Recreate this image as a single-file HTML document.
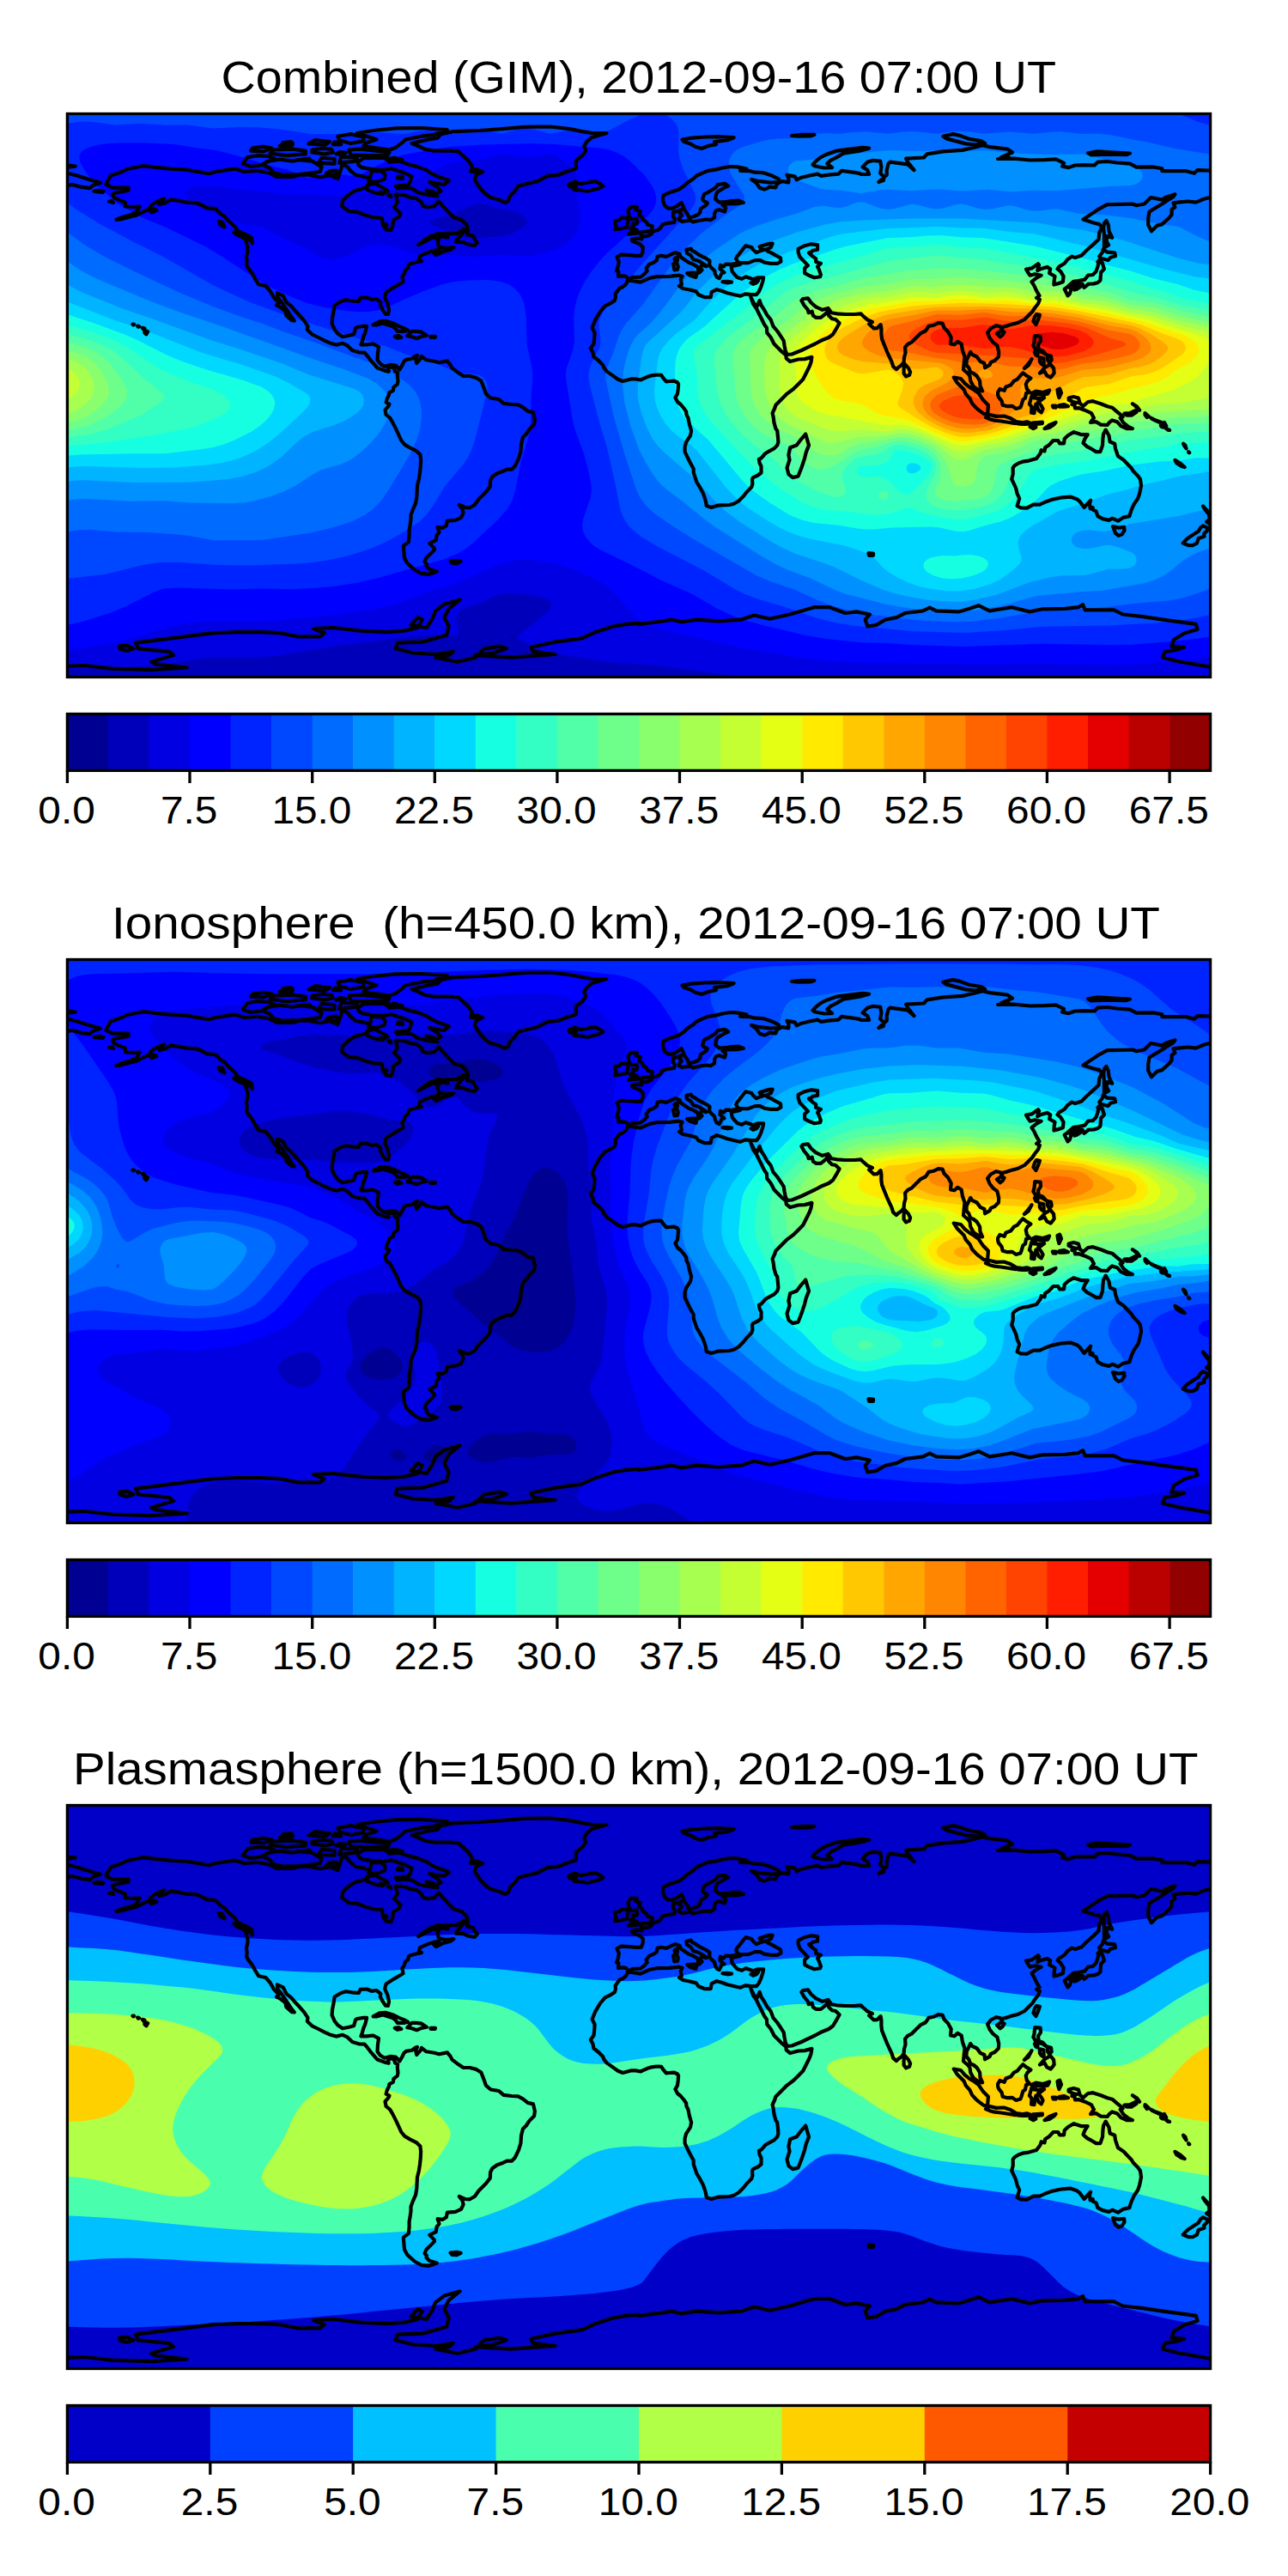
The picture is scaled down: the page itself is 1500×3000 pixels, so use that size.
<!DOCTYPE html><html><head><meta charset="utf-8"><title>GIM</title><style>html,body{margin:0;padding:0;background:#fff}svg{display:block}text{font-family:"Liberation Sans",sans-serif;fill:#000}</style></head><body>
<svg width="1500" height="3000" viewBox="0 0 1500 3000">
<defs><clipPath id="cm"><rect x="78.4" y="132.5" width="1331.2" height="656"/></clipPath>
<path id="coast" d="M123.4,214.6 129,204.5 142.1,200 147.8,197 166.5,193.2 183.4,195.1 198.4,196.6 217.1,197.7 228.4,199.6 243.4,202.2 250.9,200 265.9,197.7 273.4,196.6 284.6,200 299.6,198.8 314.6,201.8 322.1,206 340.9,206 348.4,203.7 359.6,203.7 372.8,206.3 384,204.1 393.4,208.2 395.3,202.6 399,191 404.6,194.4 408.4,199.2 414,203.7 423.4,205.6 430.9,207.5 432.8,198.8 444,199.2 448.5,203.3 447.8,208.6 438.4,212 429,211.2 430.9,214.2 427.1,217.6 419.6,220.6 413.3,222.1 404.6,228.1 399,233.7 398.3,240.1 406.5,246.1 415.9,246.8 425.3,250.6 434.6,253.2 444.8,254 445.9,261.8 449.6,267.4 455.3,268.2 457.1,263.7 458.3,256.2 464.6,252.5 466.5,248.7 459,241.2 462.8,235.6 460.9,226.6 470.3,227 477.8,230 485.3,231.1 490.9,235.6 492.8,240.1 498.4,241.2 505.9,240.1 510.8,234.5 517.1,241.2 522.8,247.6 528.4,253.2 537.8,256.2 543.4,261.8 544.5,265.6 539.6,267.4 532.1,271.9 520.9,272.3 509.6,272.3 502.1,274.9 494.6,279.4 487.1,285.1 494.6,281.3 504,276.4 511.5,277.6 509.6,281.3 510.8,286.9 517.1,288.8 522.8,288.8 528.4,288.1 524.6,290.7 515.3,293.3 507.8,297.1 505.1,294.4 511.5,290.7 502.1,292.6 494.6,295.6 489,298.2 487.9,301.9 490.9,304.2 485.3,305.3 477.8,307.2 475.9,308.7 475.1,312.4 472.1,314.7 470.3,319.9 468.4,322.2 469.5,328.2 464.6,331.2 460.9,333.4 455.3,336.8 449.6,340.5 448.1,346.2 451.5,353.7 453,361.2 451.9,366 448.9,365.7 445.9,361.2 442.9,355.5 443.3,351.8 438.4,348 432.8,348.8 427.1,346.5 419.6,346.9 417.8,351 412.1,350.7 402.8,349.2 397.1,351 389.6,355.5 388.5,363 387,370.5 386.6,376.9 389.6,383.7 393.4,388.5 399,392.3 406.5,390.8 412.1,389.3 414,382.5 415.9,381 423.4,379.9 427.1,379.9 425.3,387.4 423.4,391.9 421.5,398.6 420.4,401.3 427.1,401.3 434.6,400.5 441,403.9 439.9,411.8 439.5,419.3 442.9,423.8 447.8,426.8 454.5,424.9 460.9,425.6 463.5,428.3 465.4,430.5 468.4,425.3 470.3,421.1 472.9,418.9 479.6,417.8 483.4,414.8 486,414 484.1,418.5 485.3,423 490.1,417.4 490.9,414.8 496.5,419.3 505.9,420.8 511.5,422.3 520.9,420.4 524.6,424.9 526.5,428.6 534,434.3 539.6,438 547.1,438 554.6,439.9 560.3,443.6 564,453 565.9,458.6 571.5,463.5 580.9,465 586.5,469.9 595.9,471 603.4,471.4 609,474.4 614.6,478.9 621,480.4 622.9,488.6 622.1,494.2 616.5,499.9 612.8,505.5 609,509.2 607.1,516.7 606.4,526.1 604.1,533.6 601.5,539.2 599.6,543 595.9,546.7 590.3,546.7 584.6,549.3 579,551.2 573.4,555.3 571.1,559.8 570.8,566.6 565.9,573 562.1,576.7 557.6,581.2 552.8,588 547.1,591.3 541.5,591 534.8,588 538.5,592.8 539.6,597.3 537,602.9 530.3,605.9 520.9,606.7 519.8,612.3 515.3,614.9 509.6,614.2 511.5,619.8 508.5,623.6 507.8,629.2 500.3,632.9 505.9,638.6 505.9,640.4 500.3,646.1 496.5,649.8 494.6,654.3 496.9,656.9 496.5,659.2 500.3,662.9 508.9,665.5 504,667.4 498.4,668.9 490.9,667.8 483.4,664 477.8,659.2 474,655.4 471,649.8 470.3,642.3 469.9,635.6 475.9,631.1 476.6,623.6 476.6,617.2 477.8,610.4 478.5,604.8 478.5,599.9 480.8,593.6 484.1,586.1 485.3,578.6 485.6,573 486,565.5 487.9,558 489,550.5 489.8,543 490.1,535.5 489.4,529.5 485.3,525.4 477.8,521.6 471.4,517.9 467.3,513 463.9,505.5 460.9,499.1 457.1,491.6 454.1,486.7 449.6,483 448.5,477.4 452.3,473.2 453.4,470.6 449.6,468.7 450.8,464.2 453,459.8 453.4,457.1 457.9,454.9 458.3,451.1 462.8,447.4 463.5,443.6 462.8,438 463.1,434.3 461.3,433.1 460.1,432.4 459,428.6 454.5,427.1 451.9,429.8 452.6,432.8 447.8,431.6 442.9,429.8 439.5,428.6 435,423.4 431.6,419.6 427.1,413.6 424.5,410.6 417.8,410.3 410.3,408 404.6,402.4 399,399.8 391.5,401.6 384,399.4 378.4,396.8 370.9,393 363.4,389.3 357.8,384 358.5,379.9 354,373.2 348.4,366.8 343.1,361.2 339,356.3 333.4,351.8 329.6,344.3 322.9,341.3 323.3,346.2 327.8,351.8 331.5,357.4 335.3,363 339,368.7 342.8,373.5 339.8,373.2 333.4,367.5 332.3,362.3 325.9,357.4 322.1,355.5 324.8,352.5 319.1,346.9 314.6,339 309.4,333 301.1,331.2 296.3,323.3 294,318.8 289.1,312.4 287.3,309.1 287.6,303.1 286.9,299.3 288.4,292.6 288.4,287.3 285.8,279.1 292.1,279.8 294,283.2 292.9,276.8 286.5,273.1 277.1,269.3 273.4,263.7 265.9,257 262.1,252.5 256.5,248.7 250.9,243.1 241.5,242.3 235.9,239.3 228.4,236.3 217.1,235.6 207.8,233.7 198.4,232.6 192.8,236.3 185.3,238.2 190.9,231.1 181.5,235.6 175.9,239.3 174,243.1 166.5,246.8 159,250.6 151.5,252.5 142.1,255.1 135.4,255.8 144,252.5 151.5,250.6 159,246.8 162.8,240.5 157.1,240.8 145.9,240.5 145.9,235.6 138.4,232.6 132.8,230 130.9,226.2 134.6,224.3 142.1,223.2 149.6,221.7 149.6,218.7 142.1,218.7 130.9,218.7ZM588.4,236 580.9,232.6 571.5,230 565.9,226.2 560.3,220.6 556.5,215 552.8,209.3 554.6,203.7 562.1,200 550.9,197 549,192.5 545.3,186.9 537.8,180.1 534,176.4 524.6,175.6 505.9,175.6 494.6,173.7 487.1,170 479.6,167 498.4,162.5 509.6,160.6 513.4,156.1 528.4,153.1 558.4,152 584.6,150.1 610.9,147.9 640.9,147.5 663.4,150.1 678.4,153.1 689.6,155 706.5,155 689.6,159.9 684,164.4 680.3,170 682.1,175.6 678.4,181.2 670.9,186.9 670.9,192.5 670.9,196.2 659.6,200 650.3,203.7 637.1,205.2 625.9,211.2 614.6,213.8 603.4,216.8 599.6,222.5 594,228.1 592.1,233.7ZM509.6,228.5 498.4,227 487.1,224.3 479.6,219.5 472.1,218.7 462.8,219.5 460.9,216.8 475.9,215 477.8,211.2 479.6,205.6 472.1,201.8 460.9,198.1 455.3,196.2 445.9,198.1 434.6,197.4 421.5,195.1 417.8,192.5 416.6,188.7 423.4,184.2 434.6,183.9 449.6,183.9 453.4,188.7 464.6,187.6 475.9,191.4 487.1,194.4 496.5,198.1 502.1,201.8 511.5,206.3 520.9,209.3 522.8,210.5 517.1,215 509.6,213.8 500.3,212 509.6,218 513.4,222.5 507.8,225.1 502.1,222.5 496.5,221.7 505.9,226.2ZM520.9,151.2 490.9,149 460.9,149.4 434.6,152 415.9,155 427.1,158.7 438.4,162.5 427.1,166.2 423.4,170 434.6,171.9 453.4,174.5 460.9,171.9 468.4,166.2 472.1,162.5 490.9,158.7 505.9,156.9ZM393.4,158.7 408.4,156.1 423.4,159.5 423.4,164.4 408.4,167 395.3,163.2ZM453.4,177.5 451.5,180.9 430.9,181.2 408.4,180.5 406.5,174.5 419.6,173.7 438.4,175.6ZM318.4,201.1 329.6,203.7 348.4,203 359.6,201.8 372.8,200 374.6,194.4 363.4,187.6 348.4,186.1 340.9,187.6 325.9,185.7 310.9,188 307.1,192.5 314.6,196.2ZM282.8,190.6 292.1,194 303.4,192.5 310.9,188.7 320.3,185 312.8,182 299.6,181.2 288.4,183.1ZM314.6,178.6 333.4,181.2 355.9,179.4 355.9,175.6 340.9,173.7 318.4,174.5ZM370.9,189.9 389.6,190.6 389.6,185 374.6,183.9ZM395.3,189.9 414,187.6 415.9,183.5 397.1,182.7ZM427.1,215.7 436.5,213.8 447.8,219.5 451.5,222.5 440.3,225.5 432.8,223.2 427.1,220.6ZM531,281.7 539.6,282.1 545.3,284.7 552.8,285.8 555.8,282.4 552.8,278.7 550.9,274.9 544.1,273.1 544.9,267.1 539.6,270.1 535.9,274.9 532.1,278.7ZM434.6,378.4 442.1,374.3 449.6,373.9 457.1,376.2 464.6,379.9 472.1,382.9 475.1,384.8 470.3,385.9 462.8,385.9 460.9,382.9 457.1,379.9 445.9,376.5 438.4,378.4ZM474.4,391.2 479.6,385.9 485.3,385.9 490.9,386.7 496.9,390.8 490.9,391.9 485.3,394.2 479.6,392.3ZM459.8,391.9 464.6,391.2 467.3,393 462.8,393.8ZM501.4,391.9 507,391.9 506.6,393 501.8,393ZM168.4,384.8 172.1,386.3 170.3,389.3 168.4,387.4ZM165.8,381.8 168.4,382.5 166.9,383.3ZM160.1,379.5 162,380.3 160.9,380.7ZM154.5,377.7 156,377.7 155.3,378.4ZM272.3,270.4 282.8,272.3 290.3,278.7 284.6,277.6 275.3,273.1ZM254.6,258.1 259.1,258.8 261.4,264.4 256.5,261.8ZM174,245 179.6,243.1 182.3,245 176.6,247.2ZM662.3,214.6 669,211.6 676.5,214.2 685.9,212.3 693.4,211.2 698.6,213.8 702.4,216.8 697.1,219.5 684,222.8 674.6,221.3 668.6,221 670.9,219.1 663.4,217.2 670.9,215.7ZM731.3,326.3 745.9,328.6 757.1,323.7 764.6,322.2 779.6,321.8 790.9,320.7 794.6,321.8 792.7,325.6 793.9,331.2 790.9,333 795.4,336 802.1,337.2 810.7,339.4 813.4,343.2 820.9,346.2 827.6,346.2 828.7,340.2 834.7,337.2 840.4,338.7 847.1,341.3 856.5,343.5 862.1,344.7 867.7,342.4 873.4,342.8 875.2,348.4 877.1,353.7 880.9,359.3 884.6,366.8 886.5,370.5 890.2,378 892.9,381.8 893.2,387.4 897.7,393 901.5,400.5 905.2,404.3 910.9,409.9 915.4,413.6 915.7,417.4 920.2,421.1 929.6,418.5 937.1,418.1 945.4,415.9 944.6,421.5 942.7,426.8 939,434.3 935.2,441.8 929.6,447.4 924,453 916.5,458.6 910.9,464.2 907.1,468 903.4,471.7 902.2,475.5 899.6,481.1 900.7,486 901.5,492.4 903.4,499.1 905.2,501.7 906,509.2 906.4,514.9 905.2,518.6 901.5,522.4 895.9,525.4 891.4,528 886.5,533.6 883.9,534.7 884.6,539.2 886.5,543 886.5,550.5 882.7,553.5 877.1,556.1 876,558 876.4,563.6 875.2,567.3 871.5,571.1 869.6,573 865.9,577.8 860.2,583.5 854.6,586.8 849.7,588 841.5,588.3 835.9,588.7 828.4,591 822.7,589.1 822,584.2 820.9,580.5 819,574.8 815.2,567.7 811.5,561.7 809.6,556.1 807.7,550.5 807.7,546 804,539.2 800.2,531.7 797.6,526.1 797.6,520.5 799.1,514.9 804,507.4 805.1,501.7 802.9,494.2 801.4,486.7 799.5,483 799.1,479.2 796.5,475.5 792.7,471 789,468 786.4,463.1 789,458.6 789.7,453 790.1,447.4 789,445.5 785.2,443.6 779.6,444 775.9,444.4 772.1,439.9 770.2,436.9 766.1,436.5 759,437.3 753.4,439.1 745.9,442.5 740.3,441.4 734.6,441.4 725.3,444 719.6,441.8 712.9,436.9 706.5,432.4 703.5,428.6 702,424.9 697.1,420 691.5,415.5 690.4,410.3 687.8,405.4 691.5,400.5 692.3,393 692.6,387.4 689.6,381.8 693.4,372.4 699,363 704.6,356.3 710.3,353.7 715.9,349.9 717,346.2 716.6,342.4 721.5,335.7 725.3,334.2 729,331.2ZM938.2,505.5 942,518.6 939,526.1 937.1,533.6 933.4,544.8 929.6,554.6 923.2,556.1 918.4,552.3 916.5,544.8 919.5,535.5 918.4,529.8 920.2,521.2 927.7,518.6 933.4,511.1ZM732.4,325.6 729,321.8 725.3,321.4 720,321.8 720.4,316.2 718.1,315.4 720,309.8 720.8,304.9 718.5,299.3 723.4,296.7 732.8,297.1 740.3,297.8 746.6,297.8 748.5,293.7 748.9,288.1 745.1,284.3 736.5,280.9 735.8,278.7 742.1,277.6 747.4,278.3 746.6,274.2 749.6,275.3 754.1,274.9 759,272.3 759.7,269.7 766.5,267.8 769.1,265.6 771.4,261.8 775.9,260.3 779.6,259.6 785.2,258.8 786,255.1 784.1,252.5 784.1,246.8 789,246.1 793.1,244.2 792,248.7 793.9,250.6 790.9,254.3 790.9,256.2 794.6,258.1 798.4,257.3 804,256.6 807,258.5 813.4,257 822.7,255.5 827.6,256.2 832.1,253.2 832.1,248.7 834,245 837.7,244.2 844.1,246.5 845.2,242 841.5,238.6 847.1,237.5 858.4,237.1 865.9,236 860.2,233.7 850.9,234.1 845.2,235.2 837.7,235.6 833.2,231.8 834,226.2 835.9,223.2 843.4,218.7 848.2,216.5 844.1,213.8 835.9,215 833.2,218.7 826.5,222.8 820.1,226.2 818.2,231.8 819,233.7 823.9,236.3 822,239.3 816,243.1 815.2,247.6 812.6,250.2 807,252.5 801.7,252.8 801,249.8 797.6,245 795.4,239.7 793.5,236 789,239.7 783.4,242.7 778.1,242.7 774,239.3 772.1,233.7 772.1,230 772.9,227.3 779.6,224.3 785.2,222.5 790.9,220.6 796.5,216.8 800.2,213.1 807.4,208.2 811.5,204.5 819,201.1 824.6,198.8 834,197.4 841.5,195.5 850.1,194 858.4,194.4 869.6,196.6 862.1,198.8 873.4,199.2 879,200.7 888.4,201.1 899.6,204.8 907.1,208.6 907.1,212 897.7,212.7 884.6,211.2 875.2,209 880.9,213.1 884.6,218.7 890.2,220.6 894,219.1 895.9,217.6 903.4,218.3 905.2,213.8 910.9,211.2 918.4,212.3 918.4,207.5 916.5,203.7 925.9,205.6 927.7,209.3 933.4,206.7 942.7,204.5 952.1,202.6 955.9,204.8 967.1,203.3 976.5,202.6 980.2,198.8 993.4,200.7 1000.9,201.8 1002.7,203 1012.1,203 1010.2,198.1 1004.6,194.4 1010.2,188.7 1015.9,186.9 1025.2,187.6 1026.4,194.4 1025.2,201.8 1029,205.6 1029,210.1 1023.4,212 1032.7,203.7 1032.7,198.1 1034.6,190.6 1036.5,188.7 1045.9,189.9 1057.1,191.4 1064.6,198.1 1057.1,188.7 1055.2,184.6 1075.9,183.5 1079.6,179.4 1098.4,176.4 1120.9,174.9 1144.5,169.2 1152.7,171.1 1173.4,173.7 1179,177.5 1165.9,183.1 1175.2,183.5 1162.1,185 1180.9,184.6 1199.6,186.5 1216.5,186.1 1229.6,185.4 1239,189.9 1237.1,193.6 1244.6,195.1 1252.1,192.5 1261.5,192.1 1274.6,192.5 1278.4,188.7 1289.6,188 1300.9,189.5 1315.9,190.6 1323.4,194.7 1342.1,194.4 1353.4,196.2 1353.4,199.2 1368.4,199.2 1381.5,199.2 1390.9,201.8 1394.6,198.1 1413.3,198.8 1428.3,201.8M78.4,201.8 89.6,204.5 104.6,209.3 117,212.7 108.4,215.7 104.6,219.1 93.4,217.6 84,215 78.4,216.1M1428.3,216.1 1422.7,218 1419,218.7 1424.6,224.3 1425.7,227 1413.3,228.8 1402.1,231.8 1392.7,235.6 1383.4,234.5 1372.1,235.6 1366.5,236.3 1368.4,241.2 1364.6,243.8 1364.6,249.8 1360.9,254.3 1353.4,261.1 1347.7,262.6 1341,269.3 1337.2,261.8 1337.2,254.3 1338.4,246.8 1344,243.1 1353.4,237.5 1359,233.7 1366.5,229.2 1368.4,226.2 1357.1,230 1353.4,232.6 1340.2,230 1332.7,237.5 1323.4,239.3 1318.9,237.5 1297.1,238.2 1289.6,238.2 1278.4,244.2 1269,250.6 1261.5,255.5 1269,258.1 1272.7,259.2 1280.2,261.1 1283.2,264.8 1280.2,271.2 1279.5,278.7 1272.7,285.1 1265.2,291.8 1259.6,297.4 1252.1,300.1 1248.4,298.6 1243.5,301.9 1239.7,306.8 1233.4,310.6 1231.5,313.2 1235.2,316.2 1238.6,321.8 1237.9,328.2 1231.5,330.4 1227.4,331.5 1227.7,326.7 1228.5,321.8 1222.1,318.1 1223.2,313.2 1219.5,310.9 1210.9,313.6 1208.2,315.1 1210.1,308.7 1209,307.2 1201.5,312.4 1195.1,313.6 1197.7,318.1 1199.6,320.7 1205.2,319.2 1212.7,320.7 1207.1,323.7 1201.5,328.2 1204.5,333 1207.1,338.7 1210.5,344.3 1207.1,346.9 1210.9,348.8 1209,353.7 1205.2,358.5 1202.2,363 1197.7,367.5 1193.2,372 1186.5,375.4 1181.6,376.9 1177.1,378 1171.5,379.9 1167.4,380.7 1167,384.4 1165.1,380.3 1160.2,379.2 1153.9,382.5 1150.1,387.4 1152.7,393.8 1156.5,398.6 1161.4,402.4 1163.2,409.9 1162.9,415.5 1158.4,420 1153.9,421.9 1152.7,424.9 1147.1,428.3 1146.4,423 1141.5,420.8 1137.7,415.5 1132.1,412.9 1130.2,409.9 1128.4,413.6 1125.7,419.3 1125.4,424.9 1128.4,428.6 1130.2,433.5 1134,435 1137.7,438 1141.1,443.6 1141.5,449.3 1144.1,455.3 1141.1,454.9 1135.9,451.9 1133.2,449.3 1130.2,443.6 1129.5,438 1127.2,435 1122,430.5 1122.7,423 1123.5,415.5 1120.9,408 1119.7,400.5 1115.2,397.9 1111.5,401.3 1107,400.5 1107.7,393 1104,386.3 1099.5,381.8 1097.6,376.5 1092.7,376.2 1087.1,378.8 1081.5,379.9 1079.6,382.9 1077.7,385.5 1072.1,388.2 1066.5,393.8 1062,398.3 1057.1,400.9 1054.1,404.3 1054.5,411 1053,416.3 1052.6,421.9 1049.6,425.6 1046.6,427.5 1044,430.1 1040.2,426.8 1038.4,421.1 1035.7,415.5 1032.7,408.8 1030.1,402.4 1027.1,394.9 1026.4,389.3 1026.4,382.5 1025.6,378 1021.5,382.2 1017.7,382.5 1012.1,377.3 1015.9,375 1010.2,372.4 1004.6,367.5 1002.7,365.3 995.2,366 984,366 974.6,365.3 968.2,364.2 964.5,358.9 957.7,360.8 950.2,357.4 944.6,352.5 940.9,347.3 935.2,348 933.4,349.9 936.4,355.5 940.9,360.8 941.6,364.2 945.7,362.7 946.9,367.5 950.2,369.8 955.9,369.8 961.5,365.3 964.1,362.3 965.2,367.5 969,371.3 973.1,372 977.6,376.2 973.9,382.9 970.1,389.3 965.2,393 955.9,396.8 949.1,400.5 940.9,404.3 933.4,408 924,411.8 922.1,412.5 916.5,412.9 914.6,408 913.5,402.4 912.7,396.8 909,391.2 905.2,385.5 900.4,379.9 897.7,372.4 893.2,366.8 890.2,361.2 886.5,355.5 884.6,349.9 882,356.3 878.2,353.7 875.6,348.4M874.5,343.2 880.9,343.2 883.9,339.4 886.5,333.4 888.4,327.4 889.1,323.3 882.7,323.3 877.1,325.2 868.5,322.2 864,324.8 858.4,322.9 855.7,319.9 852.7,316.2 852,312.4 851.6,310.2 856.5,309.1 862.1,307.9 862.5,306.1 871.5,306.1 879,303.1 885.4,303.1 890.2,305.7 897.7,306.8 905.2,306.8 909.4,304.6 909,300.4 903.4,297.4 897.7,294.1 894,292.6 892.1,290.7 897.7,288.1 899.6,283.6 895.9,283.9 890.2,285.4 884.6,287.3 886.5,290.7 890.2,290.7 884.6,292.6 880.9,294.1 877.1,290.7 875.2,288.1 868.5,286.2 864.7,290.7 861,295.6 858.4,298.6 857.2,301.2 859.1,304.9 862.1,306.4 856.5,306.8 852,307.9 845.2,307.6 842.6,310.6 838.9,308.7 838.5,313.2 843.4,317.3 840.4,318.4 837.7,324.1 834.7,322.6 832.9,318.8 832.1,315.1 828.4,311.7 826.1,308.7 826.5,303.8 822.7,301.2 815.2,297.4 809.6,293.7 805.9,291.8 804.7,289.6 799.5,290.7 799.9,294.8 804.4,297.4 807.7,302.3 813.4,303.8 820.9,308.3 822.7,310.2 817.1,308.7 815.6,312.1 817.5,314.3 815.2,316.9 812.2,318.4 813.4,315.1 812.2,310.6 807,307.6 802.1,305.7 799.1,303.8 792.7,299.3 791.6,295.9 786.7,294.1 781.5,296.3 775.9,298.9 770.2,297.8 765.4,298.9 765,303.1 761.2,305.7 756.4,307.6 752.6,312.4 753.7,315.4 750.7,318.8 745.9,322.6 736.9,322.9 732.4,325.6M929.6,289.9 937.1,286.2 944.6,284.3 952.1,285.1 952.1,290.7 946.5,291.8 944.6,293.7 942,294.4 946.5,298.6 950.2,301.2 950.2,304.9 955.9,306.8 952.1,310.6 954,314.3 955.9,319.9 955.1,322.2 948.4,323.3 942,320.7 937.1,318.1 937.1,312.4 940.9,309.1 935.2,303.1 931.5,299.3 929.6,293.7ZM732,272.7 740.3,271.9 747.7,270.4 758.6,268.9 759.7,263.3 754.1,261.8 753.4,259.2 748.9,255.8 747.4,252.5 744,250.2 745.9,246.1 740.3,244.2 741.8,240.8 734.6,240.8 731.6,245 732,248.7 732.8,252.5 735.4,255.1 741.4,254.7 742.1,258.8 741.4,260.7 736.5,260.7 737.6,263.7 733.9,266.3 740.3,267.4 742.1,268.2 736.5,269.3ZM715.9,267.1 721.5,266.7 729.8,264.8 730.9,260.7 731.6,256.2 730.1,253.6 723.4,253.6 721.5,256.2 715.9,257.3 716.6,260.7 717.8,263.7ZM1244.2,333 1250.2,327.8 1255.9,327.1 1263.4,325.6 1267.1,320.7 1272.7,319.9 1276.5,316.2 1278.4,310.6 1279.5,306.1 1283.6,305.7 1285.1,310.6 1285.9,313.2 1282.1,317.3 1281.7,322.6 1281.4,326.7 1278,329.3 1273.9,330.4 1267.1,330.8 1266.4,331.9 1262.6,334.9 1260.7,330.8 1252.1,331.9 1248.4,333.4ZM1244.2,333.4 1247.6,336.8 1245.7,342.4 1243.5,344.3 1241.6,340.5 1239.7,336.8ZM1250.2,334.9 1256.6,331.9 1258.5,333.8 1254,336.8 1251.4,337.5ZM1278.4,304.9 1282.1,301.2 1280.2,298.6 1284,293.7 1284.7,290.3 1289.6,293.7 1298.2,294.4 1299,298.2 1293.4,299.7 1290.4,303.1 1284,301.2 1280.2,303.1ZM1285.9,288.4 1291.1,285.4 1288.5,280.6 1289.6,274.9 1295.2,276.8 1291.5,269.3 1290.7,261.8 1288.5,257 1285.9,260 1285.1,265.6 1285.9,273.1 1285.9,280.6ZM1207.1,366 1210.9,366.8 1209,372.4 1206.4,378 1203.4,374.3 1205.2,368.7ZM1161,388.5 1164.7,392.3 1167.7,390 1169.6,386.7 1165.9,385.2ZM1053.4,423.8 1057.9,428.6 1060.1,433.1 1059,436.9 1055.2,438.4 1052.6,435 1052.6,429.8ZM1205.2,391.2 1211.6,391.5 1212,396.8 1209,401.3 1209.7,406.9 1214.6,408.8 1218.7,413.3 1214.6,410.6 1210.9,409.1 1206,408.8 1205.6,406.1 1203.4,402.4 1204.5,398.6ZM1210.9,434.6 1216.5,428.3 1223.2,424.1 1227,428.6 1227.7,434.3 1225.9,436.9 1223.6,439.5 1219.1,437.3 1216.5,432.4ZM1219.5,413.6 1224,414.8 1224.7,419.3 1222.1,422.3 1220.2,419.3ZM1210.9,416.3 1215.4,417.4 1215.7,425.6 1212.7,423.8 1210.9,421.1ZM1192.9,429 1197.7,425.6 1201.5,418.1 1199.6,421.1 1195.9,425.6ZM1204.9,410.3 1208.6,410.6 1208.2,414.4 1206.4,413.6ZM1164.4,453 1169.6,454.9 1171.5,450.4 1177.1,448.5 1180.9,443.6 1184.6,441.8 1188.4,437.3 1191.4,434.3 1194.7,436.9 1200.4,440.6 1196.6,443.6 1194.7,447.4 1195.9,453 1199.2,456.8 1195.1,457.9 1194,463.5 1191.4,465.4 1189.5,471.7 1188.4,474.4 1183.1,475.9 1179,472.9 1173.4,473.2 1167.7,471.7 1166.6,466.9 1162.9,462.4 1162.1,459.4 1162.1,456.8ZM1110.7,439.5 1119,441 1123.5,446.3 1129.5,451.1 1134,453.8 1139.6,457.9 1142.6,462.4 1145.2,466.1 1150.9,471.7 1150.1,482.6 1145.6,481.9 1139.6,477.4 1136.6,474.7 1132.1,469.9 1129.5,464.2 1124.6,458.6 1122.7,453.8 1119,450 1114.5,445.5ZM1147.9,486 1152.7,483 1160.2,484.9 1169.2,484.5 1176,486.7 1182.7,490.5 1182.7,493.1 1175.2,492 1165.9,490.5 1158.4,489.7 1152.7,488.2ZM1202.6,457.5 1206.4,455.6 1214.6,457.1 1222.1,454.5 1220.2,458.6 1214.6,459.4 1207.1,458.6 1204.1,463.5 1209,463.9 1216.1,463.1 1210.9,467.2 1209,468 1212.7,472.5 1214.6,476.2 1212.7,480.4 1209.7,478.1 1207.1,471.7 1206.4,470.6 1204.9,477.4 1204.5,481.1 1201.1,480.7 1201.5,473.6 1198.9,470.6 1200.4,465ZM1244.6,463.5 1250.2,462 1255.9,463.5 1257.7,469.9 1261.5,472.9 1267.1,468 1272.7,467.2 1282.1,470.2 1289.6,473.2 1295.2,474.7 1300.1,478.9 1304.6,482.6 1307.6,485.6 1304.6,486.7 1308.4,492.4 1314,496.9 1318.9,499.1 1312.1,499.1 1305.4,496.1 1300.9,491.2 1295.2,489.4 1291.5,492.4 1289.6,495 1282.1,494.6 1276.5,491.2 1270.1,492 1273.9,486.7 1270.9,481.1 1263.4,477.7 1255.9,475.1 1252.1,475.5 1251.4,471.7 1248.4,471 1254,469.1 1249.5,468 1244.6,465.7ZM1216.5,499.1 1222.1,495 1229.6,492 1227.7,494.2 1222.1,498ZM1203,492.4 1207.1,492 1213.9,491.6 1213.9,493.1 1207.1,493.9 1203,493.5ZM1191.4,492 1195.9,491.2 1199.6,492.4 1195.9,493.9 1191.4,493.9ZM1183.1,491.2 1186.9,491.6 1190.6,492 1190.2,493.9 1185.4,493.5ZM1199.6,496.1 1206.4,497.6 1203.4,499.1 1199.6,497.2ZM1231.5,453.8 1234.1,452.6 1236,457.5 1233.4,463.1 1232.2,458.6ZM1233.4,472.1 1239,471 1243.9,473.2 1239,473.6 1233.4,473.6ZM1225.9,472.5 1229.6,472.5 1229.6,474.7 1226.6,474.4ZM1309.5,481.5 1315.9,481.1 1321.5,478.5 1324.5,476.6 1323.4,480 1317.7,483.7 1312.1,483.7ZM1318.9,470.2 1324.1,473.6 1327.1,477.7 1325.6,476.2 1321.5,472.1ZM1333.5,481.1 1337.6,484.9 1335.7,486 1333.5,483ZM1340.2,486.7 1344,488.6 1352.6,492 1349.6,491.6 1342.1,488.2ZM1351.9,495.4 1356.4,497.2 1354.5,497.6 1352.2,496.5ZM1356,492 1358.2,496.1 1357.1,495.7 1355.6,492.7ZM1358.2,499.1 1362,501 1360.1,500.6ZM1378.1,516.7 1380.4,518.6 1381.5,522.4 1379.6,519.7ZM1384.1,526.1 1385.2,527.2 1384.5,527.2ZM1368.4,535.8 1374,539.2 1379.6,544.1 1375.9,543 1370.2,539.2ZM1287.7,500.6 1291.5,507.4 1292.6,514.5 1298.2,516.7 1299,522.4 1300.9,528 1302,531.3 1308.4,535.5 1312.9,540.3 1317.7,545.2 1319.6,548.6 1325.2,554.2 1327.9,558 1329,565.5 1327.1,574.8 1325.2,580.5 1320.7,587.2 1317.7,593.6 1315.9,599.2 1315.5,601.1 1308.4,602.6 1302,606.7 1297.1,604.4 1295.2,603.7 1291.5,605.9 1284,604.1 1278.4,601.1 1276.5,595.4 1272.7,593.6 1272.7,591 1269.7,592.4 1269,586.1 1270.1,582.7 1262.6,591 1257.7,584.2 1254,581.2 1246.5,578.6 1237.1,579.3 1225.9,581.6 1218.4,584.2 1210.9,587.6 1203.4,587.6 1195.9,591.7 1188.4,591.3 1184.6,589.1 1187.2,580.5 1184.6,574.8 1183.1,568.5 1180.9,563.6 1178.2,558 1179.7,552.3 1179.7,544.8 1181.6,542.2 1186.5,539.2 1191,537.7 1198.1,536.6 1207.1,534 1211.6,528 1212.7,524.2 1216.5,525.4 1217.2,521.2 1222.1,517.9 1226.6,513 1232.2,513 1234.1,516.4 1239,516.4 1239.7,511.1 1243.9,507 1250.6,503.2 1259.6,506.2 1266.7,506.2 1263.4,511.1 1261.5,516 1266,520.1 1270.9,522.7 1276.5,526.1 1281.4,526.1 1284,518.6 1284.4,511.1 1285.1,505.5ZM1296,613.1 1302.7,614.6 1309.1,613.8 1309.5,617.9 1306.5,622.4 1302.7,623.9 1299,620.9ZM1401,589.5 1407.7,596.6 1411.5,598.1 1413.3,601.4 1419,602.2 1422.7,601.8 1420.1,607.4 1417.1,608.6 1416.3,612.3 1410.7,616.4 1408.9,615.3 1410.3,611.2 1405.1,607.8 1408.5,604.8 1408.1,599.2 1402.9,592.8ZM1401,612.3 1406.6,614.9 1405.9,617.9 1402.1,621.7 1402.5,624.7 1395.7,626.9 1393.9,632.6 1389,635.2 1384.5,635.2 1377.7,632.6 1381.5,628.4 1385.2,625.4 1390.9,621.7 1395.7,618.7 1398.4,614.2ZM794.6,162.5 805.9,160.6 820.9,159.5 835.9,159.1 854.6,160.2 847.1,163.2 832.1,165.1 834,168.1 824.6,170 817.1,173 809.6,170.7 804,167.4 796.5,165.1ZM946.5,191.7 950.2,187.6 955.9,183.1 963.4,179.4 974.6,175.6 989.6,173.7 1004.6,171.9 1012.1,172.6 1000.9,175.6 982.1,178.6 974.6,183.1 967.1,186.9 963.4,190.6 969,195.1 959.6,195.5 948.4,193.2ZM922.1,158 933.4,156.9 948.4,156.9 944.6,158.4 929.6,158.7ZM1109.6,156.1 1117.1,157.6 1128.4,161.7 1143.4,164.4 1147.1,167 1135.9,168.5 1124.6,167.4 1113.4,164.4 1102.1,161.4 1098.4,158.7ZM1267.1,178.2 1278.4,176.4 1297.1,177.5 1315.9,178.6 1312.1,180.1 1289.6,179.7 1270.9,180.5ZM1422.7,194 1428.3,192.5 1428.3,194.7ZM78.4,192.5 87.8,193.6 78.4,194.7ZM800.2,318.1 811.9,317.3 810.4,322.9 804,321.1ZM784.1,307.2 788.2,306.1 789.7,310.6 789,313.9 785.2,314.3ZM785.6,301.2 788.6,299.3 789,303.1 787.9,305.3 786,303.8ZM841.5,328.2 847.1,327.8 852,328.6 847.1,329.3ZM874.5,329.3 879,328.2 883.1,326.7 880.9,329.3 877.1,330.8ZM524.6,653.6 532.1,652.8 536.6,653.9 532.1,656.2 526.5,655.8ZM1011.4,644.2 1017,644.6 1017,646.8 1012.1,646.8ZM363.4,177.5 378.4,179.4 387.8,177.5 385.9,173.7 374.6,173 363.4,174.5ZM391.5,179.4 400.9,180.1 402.8,177.9 395.3,177.1ZM380.3,201.8 389.6,203.7 395.3,201.1 391.5,198.5 384,199.2ZM292.1,175.6 307.1,176.4 316.5,172.6 307.1,170.7 294,172.6ZM359.6,167.4 378.4,168.9 384,165.1 367.1,163.2ZM387.8,168.1 397.1,168.5 395.3,165.9 389.6,165.5ZM449.6,185.7 460.9,187.6 468.4,186.1 459,183.9ZM440.3,225.1 445.9,226.2 447.8,224.7 442.9,223.6ZM452.3,227.3 455.3,229.2 454.5,226.6ZM445.9,261.5 450.4,262.6 450,261.1ZM511.5,273.4 521.6,276.4 515.3,275.7ZM109.5,222.8 119.6,224 120.4,222.8 114,221.7ZM127.1,234.8 132,236 130.1,234.1ZM547.9,199.6 558.4,200.7 556.5,197.7 549,197ZM325.9,170 339,170.7 340.9,168.1 329.6,167.4ZM329.6,166.2 340.9,167 339,165.1ZM352.1,185.7 361.5,186.9 360.4,184.6ZM462.8,207.5 469.1,208.2 468.4,205.6 463.5,205.6ZM75.4,776 98.7,775 129.7,778.6 176.2,780.1 217.6,777.5 181.4,773.4 176.2,770.8 202.1,763.1 196.9,758.9 160.7,755.3 158.1,748.6 207.3,742.4 248.6,737.2 274.5,736.2 305.5,736.2 326.2,737.2 346.9,741.4 372.7,741.4 377.9,737.2 365,732 388.2,731 419.3,734.6 450.3,736.2 471,734.6 486.5,731 491.7,721.7 486.5,719.1 478.7,727.9 496.8,731 503,721.7 507.2,711.4 517.5,703.6 535.6,698.4 522.7,708.8 517.5,719.1 522.7,729.5 520.1,739.8 491.7,747.6 463.2,748.6 460.6,755.3 481.3,760.5 507.2,762 527.8,758.9 522.7,763.1 507.2,765.7 533,770.8 553.7,765.7 564,755.3 582.1,752.7 589.9,755.3 574.4,760.5 553.7,763.1 595.1,765.7 646.8,762 620.9,758.9 618.3,753.8 646.8,747.6 677.8,743.4 693.3,736.2 714,729.5 729.5,726.9 744,725.8M744,726.9 764.7,724.3 782.8,721.7 793.1,724.3 811.2,721.7 837.1,723.3 862.9,721.7 878.4,716.5 896.5,720.7 919.8,715.5 948.2,707.2 966.3,707.2 984.4,714 997.4,712.4 1012.9,715.5 1007.7,721.7 1010.3,729.5 1020.6,727.9 1031,721.7 1043.9,719.1 1054.2,714 1074.9,711.4 1082.7,707.7 1090.4,711.4 1116.3,712.4 1129.2,708.8 1139.6,705.2 1152.5,711.4 1178.3,707.2 1199,712.4 1214.5,709.3 1240.4,708.8 1255.9,707.2 1261.1,704.1 1263.6,710.3 1297.3,710.3 1307.6,715.5 1330.9,718.1 1354.1,721.7 1392.9,726.9 1394.5,733.1 1380,737.2 1367.1,745 1364.5,752.7 1379,753.8 1369.6,756.9 1356.7,758.9 1354.1,765.7 1374.8,770.8 1413.6,777.5M139,752.7 147.8,751.7 155.6,755.3 147.8,757.9 140,755.8 139,752.7" fill="none" stroke="#000" stroke-width="4.2" stroke-linejoin="round" stroke-linecap="round"/>
</defs>
<rect width="1500" height="3000" fill="#fff"/>
<g transform="translate(0,0)">
<g clip-path="url(#cm)">
<rect x="77.4" y="131.5" width="1333.2" height="658" fill="#000092"/>
<path fill="#0000bb" d="M76.4,130.5 1412.4,130.5 1412.4,790.5 543.1,790.5 522.4,788.3 472.4,788.5 438.4,787.8 416.4,788.5 397.5,790.5 76.4,790.5Z"/>
<path fill="#0000e3" d="M76.4,130.5 1412.4,130.5 1412.4,788.2 1394.4,790.5 883.4,790.5 766.4,775.5 703.6,770.5 636.4,759.5 622.5,754.5 604.9,744.5 603,742.5 603.4,740.5 637.9,712.5 641.6,706.5 641.7,702.5 640.8,700.5 638.4,698.3 630.4,695.3 613.7,692.5 596.4,691.2 584.4,692 576.4,694 556.4,703.6 538.4,709.9 534.4,712.2 531.7,716.5 531.1,720.5 534.1,732.5 533.8,736.5 530.7,740.5 528.4,741.4 506.4,739 478.4,740.9 384.4,753.4 326.4,763 308.4,765.2 294.4,765.9 246.4,766 230.4,767.6 194.4,773.5 178.4,775.2 76.4,779.3ZM552.4,238.2 546.4,240.3 522.4,251.1 504,256.5 500.9,258.5 501.2,260.5 504.3,262.5 532,274.5 540.4,276.5 550.4,277.3 580.4,275.4 590.4,273.8 596.4,271.9 603.6,268.5 609.6,264.5 613,260.5 613.5,258.5 612.2,254.5 608.1,250.5 602.4,247.4 596.4,245.6 582.4,243.2 564.4,237.7 558.4,237.3ZM586,742.5 586.4,741.1 588.4,740.8 590,742.5Z"/>
<path fill="#0000ff" d="M76.4,130.5 1412.4,130.5 1412.4,764.6 1344.4,772.4 1322.4,773.9 1300.4,774.5 1226.4,773.2 1124.4,773.5 994.4,771.8 968.4,770.3 936.4,766.5 863.4,754.5 800.4,739.4 768.4,733.1 758.7,730.5 750.4,726.4 742.4,720.3 734.4,712.3 713.3,688.5 704.4,680.8 696.4,675.8 672.4,664.9 652.4,657.8 630.4,652.9 612.4,651.4 600.4,652.3 586.4,655.7 568.4,662.5 528.4,679.9 506.4,686.3 468.4,700.9 452.4,705.4 434.4,709.4 392.4,715.9 318.4,723.1 296.4,724.1 242.4,724 218.4,725.8 200.4,729.5 160.4,741.6 136.4,747.7 100.4,754.2 76.4,756.8ZM580.4,180.2 558.4,186.2 548.4,187.4 532.4,188 526.4,189.3 518.7,192.5 464.4,219.1 454.4,223.1 444.4,225.5 436.4,226.1 414.4,225.7 386.4,228.4 360.4,226.3 336.4,226.6 304.4,222.4 282.4,220.8 256.4,217.8 232.4,216.6 226.4,217.1 220.4,218.9 216.4,222.5 215.8,226.5 217.9,230.5 221.7,234.5 229.7,240.5 236.7,244.5 282.4,260 305.4,264.5 330.4,277.7 350.6,286.5 370.4,298 376.4,300.3 382.4,301.6 390.4,301.8 398.4,300.2 406.4,296.9 424.4,287.8 430.4,286.1 438.4,284.9 446.4,284.8 454.4,285.8 480.4,294.9 492.4,297.4 504.4,297.9 526.4,296.7 546.4,298.8 556.4,299.1 584.4,296.7 610.4,298.4 622.4,297.6 630.4,295.8 650.4,288.9 656.4,286.1 661.7,282.5 667.7,276.5 671.8,270.5 674.4,264.5 675.9,256.5 675.4,248.5 671.6,228.5 671.7,206.5 670.2,200.5 667.8,196.5 664,192.5 656.1,186.5 649.4,182.5 642.4,179.8 638.4,179.5 622.4,182.1 612.4,182.8 602.4,182.1 586.4,179.5Z"/>
<path fill="#0024ff" d="M76.4,130.5 1412.4,130.5 1412.4,741.1 1394.4,743.8 1362.4,747.3 1318.4,750.8 1292.4,751.1 1210.4,749.8 1122.4,753 1062.4,751.1 1032.4,748.9 1002.4,748.3 960.4,743.8 936.4,739.4 888.4,728.1 870.4,723.2 854.4,717.7 834.8,708.5 806.4,692.1 770.4,675.9 728.6,654.5 700.4,640.9 692.9,636.5 688,632.5 682.9,626.5 679.7,620.5 678.5,616.5 678.1,610.5 679.2,604.5 688,578.5 688.8,572.5 688.6,566.5 686.2,552.5 680.4,529.5 671.1,504.5 667.4,492.5 659,440.5 659,434.5 660,428.5 667.4,406.5 669,398.5 668.3,370.5 669.4,358.5 671.8,348.5 675.5,338.5 680.7,328.5 688.6,316.5 698.4,303.9 706.4,295.2 749.5,256.5 756.4,249.6 760.3,244.5 763.1,238.5 764,234.5 764,228.5 762.5,222.5 759.7,216.5 750.8,204.5 732.7,186.5 726.4,181.9 718.4,177.7 709.5,174.5 698.4,172.2 678.4,171.1 650.4,168.2 618.4,167 562.4,168.6 526.4,170.8 513.2,172.5 468.3,180.5 442.4,191 421.6,202.5 416.4,204.7 412.4,204.9 396.4,203 386.4,202.9 378.4,203.8 360.4,207.3 356,206.5 334.4,197.6 310.4,192 288.1,184.5 257.9,176.5 248.4,174.5 230.4,172.4 202.4,167.9 168.4,166.3 144.4,166.3 126.4,167 115.4,168.5 107.1,170.5 100.4,173.1 95.2,176.5 92.5,180.5 92.2,184.5 94.1,190.5 99.9,200.5 105.9,208.5 111.4,214.5 136,236.5 167.9,254.5 192.7,264.5 238.4,286.7 256.4,297.6 310.4,332.5 341,346.5 358.4,353.3 378.4,357.9 402.4,362.1 416.4,363.3 430.4,362.9 440.4,361.2 449.4,358.5 475.6,346.5 494.9,338.5 512.4,332.1 526.4,328.5 544.4,326.4 568.4,326 582.4,327.7 592.4,331.3 598.4,335.1 603.9,340.5 607.7,346.5 610.6,354.5 612.7,368.5 613.5,400.5 619.5,428.5 620.4,440.5 618.6,462.5 618.2,488.5 617.2,500.5 615,510.5 606.5,538.5 600.3,570.5 596.7,582.5 591.2,592.5 580.6,604.5 550.8,632.5 542.4,639 533.4,644.5 516.4,651.4 440.4,673 414.4,679 388.4,683.1 366.4,685 338.4,686.3 304.4,685.4 270.4,686.4 208.4,684.4 192.4,685.2 186.4,686.7 178.4,689.9 146.4,706.3 128.4,713.8 96.4,723.7 84.6,726.5 76.4,727.6Z"/>
<path fill="#0048ff" d="M76.4,130.5 1363.3,130.5 1372.4,132.6 1396.9,142.5 1412.4,146.7 1412.4,715.5 1384.4,721.3 1348.4,725.2 1292.4,728.4 1212.4,729.7 1166.4,734.3 1124.4,737.1 1064.4,735.2 992.4,728.6 970.4,724.7 952.4,720.1 914.4,707.1 882.4,697.5 866.4,691.5 854.4,685.3 820.4,664.7 764.4,635.7 746.4,624.7 736.4,616.8 732.3,612.5 728,606.5 725,600.5 722.4,592.7 715.9,560.5 706.7,520.5 697.1,488.5 686.9,448.5 685.6,440.5 685.6,434.5 688.1,424.5 698.7,404.5 699.4,396.5 697.2,376.5 698.7,370.5 702.4,363.4 710.4,352.5 748.6,306.5 802.7,246.5 807.2,240.5 809.3,236.5 810.1,230.5 808.9,224.5 795.5,196.5 791.4,184.5 790.1,174.5 790.6,154.5 789.3,148.5 787.5,144.5 784.4,140.4 780.4,136.9 776.3,134.5 770.4,132.5 762.4,131.7 746.4,133.8 734.4,138.4 708.2,152.5 698.4,155.7 694.4,155.6 676.4,151.9 668.4,151.4 660.4,152 640.4,155.7 622.4,150.8 612.4,149.9 602.4,151.1 584.4,155.8 566.4,151.8 556.4,150.8 546.4,151.6 528.4,155.8 508.4,152.6 498.4,152 488.4,152.8 470.4,155.9 442.4,154.2 414.4,155.9 362.4,155.9 324.4,150.3 298.4,148.2 278.4,148 248.4,149.5 218.4,145.5 192.4,145.7 164.4,143.8 134.4,145.6 112.4,142.5 100.4,141.6 88.4,142.2 76.4,144.4ZM76.4,234.5 76.4,233.3 81.7,238.5 89.8,244.5 116.4,261.1 154.4,281.3 188.4,297.9 248.7,332.5 292.2,352.5 346.4,372.1 416.4,394.1 448.4,403 472.4,412.5 508.4,423.6 530.4,433.1 538.4,434.9 554.4,436 558.4,437.1 562.4,439.5 565,442.5 566.8,446.5 567.4,450.5 567.2,456.5 553.6,510.5 548.9,524.5 545,532.5 540.4,539.8 517.9,566.5 503.3,590.5 496.4,599.8 489.6,606.5 478.6,614.5 460.4,625.3 444.4,633.4 430.4,639.2 414.7,644.5 398.4,648.9 382.4,652.2 364.4,654.9 346.4,656.5 290.4,658.4 254.4,658.1 206.4,654.7 186.4,655 166.4,657.9 124.4,668.4 76.4,674.2Z"/>
<path fill="#006cff" d="M989.1,154.5 1008.4,153.2 1034.4,155.8 1052.4,153.5 1064.4,153 1090.4,155.8 1110.4,153.3 1120.4,152.9 1130.4,153.6 1146.4,155.8 1174.4,153.5 1204.4,155.8 1224.4,153.7 1234.4,153.3 1260.4,155.9 1280.4,155.7 1294.4,157.3 1316.4,162.1 1336.4,165.6 1368.4,173.1 1412.4,180.1 1412.4,684.1 1400.4,689 1383.9,694.5 1372.4,697.4 1360.4,699.5 1318.4,703 1284.4,707.4 1212.4,711.4 1162.4,720 1132.4,723.5 1110.4,724.2 1072.4,722.4 1052.4,720.5 1016.4,715.7 988.4,710.8 968.4,705.3 952.4,699.1 924.4,686.3 898.4,677.6 881.5,670.5 810.4,629.6 789.4,616.5 764.4,599.8 756.4,593 750.4,586.6 745,578.5 741.2,570.5 727.3,528.5 714.6,484.5 705.6,442.5 705.3,436.5 706.3,430.5 714.4,410.5 720.4,392.3 723.9,384.5 729.3,376.5 748.4,354.9 778.9,312.5 800.4,287.4 818.4,270.5 844.4,250.8 862.8,238.5 866.3,234.5 866.9,230.5 866,226.5 853.3,206.5 850.5,200.5 849,194.5 848.9,188.5 849.9,184.5 852.1,180.5 855.6,176.5 860.4,173.2 866.4,170.7 886.4,164.7 896.4,162.5 906.4,161.4 922.4,160.9 950.4,155.8 960.4,155.3 978.4,155.9ZM76.4,270.5 76.4,269.2 100.4,286.4 122.4,299.2 152.9,314.5 208.4,340.5 246.7,356.5 280.4,368.7 304.3,376.5 328.4,385.8 362.4,397.3 412.4,415.9 438.4,424.8 456.4,433.8 474.7,446.5 479,450.5 483.9,456.5 487.1,462.5 489.2,468.5 490.7,476.5 491,484.5 489.1,500.5 484.5,514.5 476.5,530.5 452.6,570.5 442.7,584.5 434.4,592.8 424.4,600 414.4,605.2 400.3,610.5 380.4,616.2 360.4,620.8 304.4,629.1 248.4,629.2 220.4,624 206.4,622.2 170.4,619.9 134.4,619.5 104.4,616.8 90.4,617.2 76.4,620.1Z"/>
<path fill="#0090ff" d="M1018.8,176.5 1036.4,175.1 1064.4,175.9 1090.4,175.2 1118.4,175.9 1146.4,175.1 1180.4,178.2 1200.4,179.3 1228.4,179.9 1260.4,179.5 1272.4,181.7 1294.4,187.9 1318.4,192.8 1324.4,195.6 1328.2,198.5 1329.7,200.5 1331.1,204.5 1330.1,208.5 1326.4,212.4 1322.4,214.5 1316.4,216.1 1292.4,217 1232.4,222 1202.4,221.7 1178.4,223.3 1150.4,220.8 1120.4,222.4 1094.4,220.5 1082.4,220.7 1062.4,222.2 1034.4,220.8 1022.4,221.6 1002.4,225.2 982.4,222.1 962.4,220.8 954.4,219.2 924.1,208.5 920.4,205.6 917.9,200.5 917.8,196.5 919.4,192.5 922.4,189.4 926.4,187.6 948.4,185.4 976.4,179.6 1000.4,178.5ZM995.9,236.5 1000.4,235.2 1006.4,235.5 1024.7,242.5 1034.4,243.9 1042.4,242.9 1056.4,238.7 1062.4,237.8 1068.4,238.4 1083.2,242.5 1090.4,243.4 1098.4,242.5 1110.4,239 1118.4,237.6 1124.4,238.3 1138,242.5 1146.4,243.9 1154.4,243.4 1174.4,239.2 1180.4,239.8 1196.3,244.5 1202.4,245.4 1210.4,245.4 1226.4,243.4 1232.4,243.5 1256.4,248.7 1286.4,250.3 1318.4,254.2 1352.4,261.2 1370.4,263.4 1374.4,264.7 1388.4,272.2 1406.3,280.5 1412.4,282.3 1412.4,637.5 1396.4,642.8 1386.4,647.2 1378.4,652.3 1363.7,664.5 1355,670.5 1344.4,675.6 1332.4,679.2 1284.4,687.7 1258.4,689.3 1208.4,693.8 1164.4,705.7 1134.4,711 1120.4,712.1 1106.4,712.3 1068.4,709.7 1048.4,706.8 1028.4,703 984.4,691.7 974.4,688 944.4,673.7 918.4,664.1 906.4,658.7 886.4,647.6 832.4,613.5 820.3,604.5 796.4,584.9 777.1,570.5 770.4,564.7 764.4,558 758.4,549.4 750.4,535.8 744.4,524 734.4,496.5 727.3,468.5 725,448.5 726,432.5 728.5,420.5 732.1,408.5 735.4,400.5 738.9,394.5 744,388.5 755.5,378.5 763,370.5 775.9,354.5 796.4,326.5 812.4,308.7 822.4,299.5 832.4,291.6 860.4,272.8 868.4,268.4 880.4,263.6 904.4,255.3 928.3,248.5 948.4,240.9 958.4,239.7 972.4,241.7 978.4,241.9 985.4,240.5ZM76.4,304.5 76.4,303.3 94.4,315.2 112.2,324.5 174.2,350.5 206.5,362.5 246.4,375.9 366.4,418.8 400.4,430.1 430.4,441.5 438.4,446.5 445.1,452.5 449.8,458.5 452.7,464.5 454,470.5 453.6,478.5 451.4,486.5 448.4,493.4 441.5,504.5 432.4,515.2 420.4,526.4 408.4,535.4 396.4,541 380.4,545.2 372.4,548.1 364.4,552.5 344.4,565.5 330.4,572.6 316.4,577.8 298.4,582.7 284.4,585.4 270.4,586.3 222.4,585.4 190.4,583.2 152.4,583.8 102.4,580.9 88.4,581.3 76.4,583.6Z"/>
<path fill="#00b4ff" d="M1062.3,254.5 1120.4,254.5 1208.4,259.5 1236.4,264.4 1262.4,268.1 1308.4,279.8 1372.4,300.8 1396.4,306.7 1412.4,308.8 1412.4,591.2 1372.4,601 1314.4,610.5 1290.4,618.5 1284.4,619 1268.4,617.3 1260.4,617.7 1252.9,620.5 1248.9,624.5 1247.6,628.5 1248.6,632.5 1252.4,636.4 1256.4,638.1 1262.4,639.1 1268.4,639 1286.4,635.1 1292.4,634.8 1302.4,637.3 1318.4,643.4 1322.4,647.1 1323.8,652.5 1322.6,656.5 1321.1,658.5 1316.4,661.5 1310.4,662.6 1290.4,662.8 1270.6,668.5 1262.4,670.1 1236.4,670.4 1224.4,672 1198.4,678.6 1160.4,692.8 1134.4,698.8 1122.4,700.2 1110.4,700.7 1082.4,698.9 1055.9,694.5 1039.9,690.5 1027.5,686.5 1004.2,676.5 971.9,660.5 958.4,655.4 926.4,645 912.4,638.5 898.4,631.1 862.4,608.4 844.4,595.1 833.2,584.5 814.4,563.5 804.4,553.4 774.4,527.7 766.4,519.7 759.6,510.5 752.6,496.5 746.7,480.5 743.4,466.5 742.6,458.5 743,448.5 747,416.5 748.8,408.5 751.5,402.5 754.8,398.5 792,364.5 797.3,358.5 810.4,341 828.4,323.1 838.7,314.5 850.4,306.1 876.4,290.8 896.4,281.8 928.4,270.3 960.4,261.6 978.4,258.2 1004.4,256.5ZM76.4,330.5 95.5,340.5 144.4,360.1 174.4,370.2 248.4,397 278.4,406.3 328.4,423.2 360.4,436.4 412.4,452.7 418.4,455.9 422.5,460.5 424.1,466.5 422.9,472.5 420.4,476.5 416.4,480.5 402.4,489.6 390.4,494.8 364.4,503.1 354.4,508.3 346.5,514.5 326.4,533.2 312.4,543 298.4,549.8 282.4,555.1 264.4,558.3 220.4,561.7 156.4,562 98.4,559.2 86.4,559.8 76.4,561.4Z"/>
<path fill="#00d8ff" d="M1077.3,264.5 1092.4,263.8 1120.4,265.5 1146.4,265.8 1176.4,269.9 1204.4,272.2 1264.4,286.8 1356.4,313.5 1392.4,322.4 1412.4,324.9 1412.4,549.2 1406.4,549.3 1390.4,552.2 1372.4,554.4 1354.4,559.5 1330.4,564.8 1314.4,569.8 1288.4,576.2 1262.4,586.6 1240.4,592.4 1230.4,596.3 1200.4,613.5 1193.7,618.5 1189.7,622.5 1187.1,626.5 1185.4,632.5 1186.2,638.5 1189.5,648.5 1189.6,652.5 1187.6,656.5 1179.2,664.5 1165.5,674.5 1153.1,680.5 1134.4,686.1 1118.4,688.2 1102.4,688.2 1084.4,686.1 1070.4,683 1057.9,678.5 1045.2,672.5 1035,666.5 1027.7,660.5 1018.4,650.3 1010.4,645 999.1,640.5 982.4,635.3 942.4,627.5 930.4,624 918.4,619.4 906.4,613.7 892.4,605.6 872.4,592.5 860.4,583.4 846.1,568.5 811.4,524.5 804.9,518.5 790.4,508.7 782.4,502 774.4,492.7 768.5,482.5 765.1,474.5 762.9,466.5 762,454.5 766.2,418.5 768.6,410.5 772.1,404.5 778.8,396.5 787.2,388.5 809.1,372.5 828.4,350.1 847.2,332.5 858.4,323.8 870.4,315.7 884.4,307.6 896.4,301.7 940.4,285.2 966.4,276.1 978.4,272.8 1032.4,266ZM76.4,350.5 134.4,373.3 166.4,383.8 234.4,410.6 280.4,424.3 321,438.5 337.3,446.5 357.4,458.5 359.5,460.5 361.4,464.5 360.5,470.5 356.2,476.5 350.1,482.5 326.3,504.5 312.4,515.7 302.1,522.5 290.9,528.5 280.4,532.9 268.4,536.7 256.4,539.3 242.4,541.5 204.4,544.5 166.4,544.9 98.4,542.9 86.4,543.4 76.4,544.9Z"/>
<path fill="#16ffe1" d="M1078.9,274.5 1094.4,273.9 1120.4,276.2 1146.4,277.2 1204.4,286.5 1258.4,299.8 1294.4,310.1 1316.4,315.6 1344.4,324.5 1372.4,331.3 1390.4,337.6 1412.4,342.2 1412.4,533.5 1392.4,533.2 1372.4,536.4 1350.4,537.6 1316.4,541.7 1284.4,548.8 1262.4,551.9 1254.4,553.8 1233.7,560.5 1224.4,564.9 1219.7,568.5 1208.8,580.5 1200.4,587.9 1188.3,596.5 1176.4,603.3 1164.4,607.8 1146.4,612.2 1130.4,617.6 1122.4,619.2 1114.4,619 1094.4,614.6 1084.4,613.6 1038.4,614.6 1018.4,616.4 1008.4,616.6 998.4,615.5 978.4,612 948.4,609.1 934.4,605.7 920.4,600.2 897.9,586.5 878.4,572.8 871,566.5 864.4,559.5 825.1,512.5 800.7,490.5 796,484.5 792.5,478.5 789.1,470.5 786.8,460.5 786,450.5 786.1,432.5 786.5,422.5 787.9,414.5 790.1,408.5 793.5,402.5 800.6,394.5 820.2,380.5 856.4,347.6 867.3,338.5 888.4,323.9 908.4,313.4 922.4,307.8 972.4,290.5 984.4,287.1 1032.4,277.3 1062.4,275.9ZM1058.4,540.2 1056.3,542.5 1055.7,546.5 1056.4,548.8 1058.4,550.7 1062.4,551.5 1066.4,550.6 1069.9,548.5 1071.7,546.5 1072.4,544.5 1071.4,542.5 1068.5,540.5 1062.4,539.3ZM76.4,366.5 76.4,365.4 106.4,375.2 146.4,390 160.9,396.5 194.4,413.5 212.4,420.9 240.4,430.4 282.1,442.5 304.4,450.4 313.7,456.5 318.4,462.5 319.9,466.5 320.3,470.5 318.2,478.5 314.4,484.5 309,490.5 301.9,496.5 293,502.5 272.4,512.9 258.4,518.2 248.4,521 234.4,523.3 192.4,528.3 158.4,528.2 92.4,529.4 76.4,530.9ZM1118.8,646.5 1130.4,645.9 1138.4,647.3 1144.4,649.2 1148.4,651.7 1150.4,654.3 1151,656.5 1150.4,659.6 1148.5,662.5 1146.3,664.5 1142.4,666.8 1133.2,670.5 1120.4,673.6 1108.4,674.3 1098.4,673.5 1087.4,670.5 1080.2,666.5 1078,664.5 1075.6,660.5 1075.7,656.5 1076.7,654.5 1080.4,651.1 1084.4,649.2 1096.4,647.1 1112.4,647.4Z"/>
<path fill="#33ffc4" d="M1071.7,286.5 1092.4,284.7 1120.4,287.7 1146.4,289.2 1204.4,300 1256.4,311.4 1288.4,320.7 1314.4,326.7 1332.4,333.2 1358.4,340.3 1374.4,346.6 1412.4,354.3 1412.4,514 1388.4,516.2 1372.4,516.8 1358.4,519.9 1326.4,524.5 1314.4,527.4 1294.5,530.5 1264.4,536.8 1230.4,541.6 1207.6,546.5 1203.1,548.5 1198.7,552.5 1184.6,576.5 1179.4,582.5 1172.4,588.5 1164.4,593.3 1156.4,596.4 1134.4,602.5 1124.4,604.4 1112.4,604.7 1100.4,603.2 1079.4,598.5 1062.4,592.2 1058.4,591.3 1054.4,591.8 1038.4,597.3 1022.4,599.7 1012.4,599.3 986.4,595.8 960.4,593.8 948.4,591.1 936.9,586.5 907.4,568.5 889.6,554.5 862.4,528.2 827.7,490.5 818.8,478.5 814.5,468.5 812.4,458.5 811.6,434.5 808.5,420.5 807.8,414.5 808.6,408.5 810.4,404.6 814.7,400.5 859.4,366.5 888.4,342.2 902.4,332.5 916.4,324.9 936.4,317.5 1030.4,290 1038.4,288.7ZM1044.4,524.2 1042.4,524.9 1041,526.5 1038.4,532.5 1034.4,536.9 1028.4,539.8 1020.4,542.4 1002.4,542.5 999.3,544.5 998.3,546.5 998.4,549.8 1000.4,553 1004.4,555.1 1008.4,555.4 1020.4,554.1 1028.4,556.2 1036.4,561 1043,568.5 1050.4,574.1 1054.4,575.9 1058.4,575.8 1064.4,571.5 1080.4,554.4 1084.4,548.2 1085.8,542.5 1084.4,539.5 1081.6,536.5 1072.1,530.5 1056.4,525.5 1050.4,524.4ZM76.4,378.5 76.4,377.7 104.4,385.7 134.4,396.8 148.5,404.5 178.4,424.8 190.4,432.1 222.4,445.1 246.4,453 254.3,456.5 260.4,460.5 266.3,466.5 268.1,470.5 268.2,472.5 266.9,476.5 263.2,480.5 256.4,484.7 234.4,494.5 220.4,498.6 184.4,505.9 128.1,514.5 108.4,516.9 76.4,519.1Z"/>
<path fill="#50ffa7" d="M1080.2,298.5 1094.4,297.6 1146.4,302.5 1204.4,311.8 1246.4,319.7 1260.4,322.7 1278.4,328.5 1300.4,334.2 1320.4,341.3 1346.4,345.9 1372.8,354.5 1412.4,362.6 1412.4,502.5 1376.4,504.3 1340.4,509.5 1316.4,512.2 1258.4,525.2 1228.4,529.2 1216.4,531.9 1194.4,539.6 1188.8,542.5 1183.4,546.5 1179.7,550.5 1177.2,554.5 1171.3,568.5 1167.9,574.5 1162.8,580.5 1158.4,584 1152.4,587.2 1144.4,589.9 1124.4,593.8 1110.4,594.3 1098.4,592.8 1088.4,589.7 1084.4,587.5 1081,584.5 1078.7,580.5 1078.2,574.5 1080,568.5 1088.8,552.5 1090.2,542.5 1089.4,538.5 1084.4,531.9 1077.2,526.5 1068.4,522.5 1054.4,518.7 1046.4,517.9 1040.4,518.8 1036.6,520.5 1030.4,525.3 1026.4,527.4 1020.4,529.1 1002.4,532.1 996.4,534.5 992.4,537.2 985,544.5 981.3,550.5 980.6,554.5 981,558.5 984.8,568.5 985.2,572.5 983.1,576.5 979.2,578.5 974.4,578.9 970.4,578.5 958.4,574.7 944.4,568.4 927.1,558.5 916.1,550.5 900.4,534 878.4,518.2 866.4,508.1 854.4,495.3 845.2,482.5 838.5,468.5 836.2,460.5 834.5,450.5 831.5,420.5 832.8,412.5 835.5,406.5 843.4,396.5 852.3,388.5 869.6,376.5 909,344.5 916.4,339.5 924.4,335.3 944.4,328.4 976.4,321.1 1000.4,313.5 1032.4,304.8 1042.4,303ZM76.4,388.5 92.4,392.4 106.4,396.9 120.4,402.5 132.4,408.8 139.5,414.5 170.4,442.9 189.5,458.5 190.8,460.5 191,462.5 189.1,466.5 181.6,472.5 162,484.5 124.1,500.5 104.4,506.1 76.4,509.9ZM1025.6,572.5 1030.4,571.6 1033.5,572.5 1035,574.5 1034.4,579 1032.4,581 1030.4,581.8 1026.4,581.6 1023.9,580.5 1022.4,578.5 1022.2,576.5 1023.1,574.5Z"/>
<path fill="#6dff8a" d="M1089.2,312.5 1116.4,312.7 1142.4,314.6 1200.4,321.4 1236.4,327 1258.4,331.7 1270.4,335.8 1294.4,340.9 1316.4,349.5 1344.4,352.6 1376.4,362 1412.4,370.1 1412.4,492.1 1394.4,493.8 1372.4,494.1 1346.4,498.3 1324.4,501 1280.4,509.6 1260.4,512.6 1240.4,517.3 1208.4,522.2 1199.5,526.5 1169.1,538.5 1163,542.5 1161.4,544.5 1159.8,548.5 1158,562.5 1156.4,568.5 1152.7,574.5 1148.4,578 1142.4,580.3 1134.4,582 1112.4,583.8 1104.4,583.3 1098.4,582.2 1092.4,579.5 1089.6,576.5 1088.8,574.5 1088.9,570.5 1094.1,558.5 1095.6,552.5 1095.6,544.5 1094.5,538.5 1091.1,532.5 1085.8,526.5 1080.3,522.5 1071.9,518.5 1062.4,515.4 1054.4,513.8 1046.4,513.4 1039.2,514.5 1022.4,520.3 1004.4,523.8 998.4,525.5 990.4,529.6 978.4,538.2 966.4,544.4 958.4,546.7 952.4,546.5 944.4,543.8 936.4,538.5 932.4,534.4 923.5,522.5 920.4,519.7 900.4,511.6 890.4,506.4 879.7,498.5 870,488.5 862.3,476.5 857.8,464.5 856.1,454.5 855.1,436.5 853.3,420.5 853.7,412.5 855.5,406.5 859.1,400.5 865.2,394.5 906.9,364.5 923.5,350.5 930.4,346.4 942.4,341.3 957.4,336.5 978.4,332.1 994.4,327.1 1008.4,323.7 1056.4,315ZM76.4,398.5 76.4,398 88.4,401.1 102.4,405.8 112.4,410.7 121.1,416.5 129,424.5 143.6,444.5 147.3,452.5 148,458.5 147.4,462.5 145.7,466.5 141,472.5 133.6,478.5 120.4,487.4 110.8,492.5 100.4,496.5 88.4,499.5 76.4,501.4Z"/>
<path fill="#8aff6d" d="M1093.5,324.5 1112.4,323.3 1126.4,323.6 1176.4,327.3 1232.4,334 1246.4,337.3 1260.4,342.8 1278.4,344.3 1288.4,346 1314.4,354.6 1344.4,358.6 1374.4,367.7 1412.4,376.7 1412.4,483.8 1394.4,485.4 1370.4,485.9 1336.4,490.6 1316.4,492 1292.4,497.9 1258.4,504.5 1236.4,509.7 1204.4,513.5 1200.4,514.9 1186.4,522 1176.4,525.6 1166.4,528 1150.4,530 1146.4,531.4 1142.8,534.5 1139.2,540.5 1137.5,546.5 1136.3,556.5 1134.4,561.4 1130.4,564.6 1120.4,566.7 1114.4,566 1110.4,563.6 1108.8,560.5 1106.2,548.5 1103.1,540.5 1099.6,534.5 1092.9,526.5 1088.8,522.5 1084.4,519.4 1070.4,513.2 1056.4,509.6 1050.4,509.1 1042.4,509.8 1024.4,513.6 998.4,517.7 988.4,521.6 978.4,528.2 974.4,529.8 968.4,530.6 960.4,530 954.4,528.2 948.4,525.1 932.3,512.5 926.4,508.8 908.4,500.9 900.5,496.5 892.7,490.5 885.3,482.5 879.2,472.5 875.3,460.5 874.3,452.5 874,434.5 872.8,414.5 874.3,408.5 876.8,404.5 884.6,396.5 894.4,388.5 918.4,373 932.3,360.5 938.4,356.1 950.4,349.8 968.4,343.1 1004.4,334.1 1032.4,330.7 1056.4,325.9 1068.4,324.9ZM76.4,408.5 76.4,407.6 80.4,408.5 94.4,413 102.4,417.1 109.8,422.5 116.4,429.7 121.9,438.5 125.4,446.5 127,454.5 126.2,460.5 123,466.5 117.9,472.5 110.8,478.5 102.4,483.9 94.4,487.7 84.4,491.2 76.4,492.7Z"/>
<path fill="#a7ff50" d="M1103.9,332.5 1120.4,331.4 1150.4,334.3 1172.4,334.3 1184.4,335.5 1204.4,339.4 1222.4,339.3 1232.4,340.2 1244.4,343.1 1258.4,348.6 1284.4,350.7 1294.4,353 1314.4,359.2 1342.4,363.4 1372.4,373 1392.4,377.2 1412.4,382.4 1412.4,475.6 1406.4,476.7 1352.4,480 1306,486.5 1260.4,496.1 1230.4,503.7 1202.4,508 1184.4,515.6 1174.4,519.1 1144.8,524.5 1126.4,533.7 1118.4,535.3 1112.4,533.9 1108.4,531.7 1091.8,518.5 1084.6,514.5 1068.4,508 1056.4,505.1 1048.4,504.8 1030.4,507.7 1002.4,509.1 972.4,515.6 968.4,515.9 962.4,515 954.4,512.1 936.4,502.4 916.4,492.9 907.7,486.5 900.4,478.5 896.6,472.5 894,466.5 890.9,452.5 890.2,426.5 891,418.5 892.6,412.5 896.8,404.5 904.4,395.8 910.8,390.5 925.7,380.5 944.4,364.7 956.4,357.8 977.3,348.5 1000.4,342.9 1012.4,340.9 1034.4,338.8 1060.4,333.8 1070.4,333.4 1088.4,334.1ZM76.4,418.5 76.4,417.3 86.7,420.5 94.1,424.5 99.1,428.5 102.8,432.5 106.5,438.5 108.8,444.5 109.6,450.5 108.9,456.5 107.4,460.5 105,464.5 100.4,469.6 94.4,474.3 88.4,477.8 82.4,480.3 76.4,481.9Z"/>
<path fill="#c4ff33" d="M1109.2,338.5 1124.4,338.1 1148.4,341.7 1164.4,340.3 1176.4,340.5 1186.4,341.9 1204.4,346.1 1220.4,344.7 1232.4,345.5 1240.4,347.1 1258.4,352.5 1284.4,355.4 1314.4,363.3 1338.4,367.3 1370.4,377.6 1410.4,387.8 1412.4,388.7 1412.4,458.2 1406.6,462.5 1402.4,464.2 1374.4,469.8 1348.4,471.2 1338.4,473.1 1318.4,478.3 1298.4,480 1286.4,482.1 1258.4,488.9 1222.4,499.2 1202.4,503 1170.4,514.4 1146.4,518.8 1128.4,524.4 1120.4,525.7 1116.4,525.5 1110.4,523.9 1104.4,521.1 1092.4,513.8 1082.4,509.1 1068.4,503.5 1056.4,500.5 1046.4,500.2 1032.4,502.7 1004.4,500.5 992.4,500.9 978.4,502.6 966.4,501 954.4,497 928.4,485.9 920.4,480.5 915.2,474.5 909.9,464.5 907.8,454.5 907.7,422.5 908.3,416.5 909.8,410.5 912.6,404.5 917.5,398.5 950.4,371.8 962.4,364.8 984.4,355.3 1004.4,349.3 1016.4,347.3 1034.4,345.6 1060.4,340.6 1072.4,340.2 1090.4,341.5ZM76.4,430.5 76.4,428.9 80.4,430.1 87,434.5 91.2,440.5 92.7,446.5 91.9,452.5 88.4,458.4 83.4,462.5 76.4,465.7Z"/>
<path fill="#e4ff13" d="M1105.3,344.5 1114.4,343.5 1124.4,343.5 1148.4,347.1 1162.4,345.5 1172.4,345.4 1184.4,346.6 1202.4,350.1 1218.4,349.2 1228.4,349.6 1238.4,351.2 1256.4,355.6 1286.4,360.2 1310.4,366.2 1338.4,372 1364.4,380.6 1384.9,386.5 1401.6,392.5 1408.4,396.4 1411.3,400.5 1412.4,403.5 1412.4,411.5 1410.6,416.5 1406.4,423.7 1400.4,432.1 1394.4,438.8 1386.2,444.5 1365.5,454.5 1334.4,463.1 1316.4,470.1 1296.4,471 1282.4,473.6 1262.6,480.5 1242.4,485.9 1216.4,495.3 1194.4,500.9 1170.4,509.2 1124.4,519 1116.4,518.9 1108.4,516.8 1074.4,501.3 1058.4,495.7 1048.4,494.4 1034.4,495 1026.4,494.4 962.4,482.4 952.4,479 943,474.5 936.4,470 931.3,464.5 929,460.5 927.5,454.5 927.3,434.5 924.9,416.5 925.6,410.5 927.2,406.5 932,400.5 948.5,384.5 958.4,376.7 968.4,371.1 992.4,360.4 1010.4,354.7 1036.4,350.9 1060.4,346.4 1072.4,345.8 1090.4,347.1Z"/>
<path fill="#ffea00" d="M1111.5,348.5 1126.4,348.4 1146.4,350.7 1172.4,350 1202.4,353.4 1226.4,353.6 1282.4,363.6 1330.4,374.2 1358.4,384 1376.4,389.4 1386.5,394.5 1391.9,398.5 1395.1,402.5 1396.1,408.5 1393.8,414.5 1388.4,420.5 1382.4,424.3 1372.4,429.1 1358.4,439.4 1348.4,444.6 1338.4,447.8 1318.4,452.4 1304.4,457 1276.4,463.4 1270.4,465.9 1258.4,472.5 1240.4,477.7 1214.4,490.5 1206.4,493.5 1188.4,497.9 1160.4,507.2 1126.4,513.6 1116.4,513.4 1108.4,511.5 1090.4,504.2 1058.4,489.8 1050.4,487.5 1026.4,483.2 1019.9,480.5 1008.4,473.6 1002.4,470.9 994.4,468.8 980.4,466.6 974.4,464.8 969.9,462.5 964.6,458.5 956.4,448.5 950.4,438.2 946.1,428.5 943.8,420.5 943.5,412.5 945.9,404.5 950.7,396.5 957.6,388.5 967.5,380.5 976.4,375.5 998.4,365.5 1008.4,361.8 1018.4,359 1062.4,351.4 1074.4,350.7 1090.4,351Z"/>
<path fill="#ffc800" d="M1088.7,354.5 1120.4,352.7 1168.4,354.1 1226.4,357.5 1258.4,362.6 1316.4,374.7 1329.9,378.5 1354.4,388.8 1372.4,395 1376.4,397.6 1379.2,400.5 1380.3,402.5 1380.8,406.5 1379,410.5 1376.4,413.1 1354.4,427.9 1344.4,433.1 1334.4,436 1316.4,438.5 1292.4,446.7 1266.5,450.5 1260.4,452.4 1232.4,469.6 1213,484.5 1204.4,489.3 1186.4,493.2 1162.4,502.1 1150.4,505.2 1128.4,508.7 1120.4,508.8 1114.4,508 1100.4,503.8 1083.8,496.5 1066.3,486.5 1048.1,474.5 1046.2,472.5 1045.4,470.5 1045.5,468.5 1050.8,454.5 1052.2,446.5 1050.1,440.5 1043.6,434.5 1036.4,431 1032.4,430.6 1008.4,435.1 1002.4,435.2 996.4,434.1 968.4,422.3 964.4,419 962.5,416.5 960.4,410.5 960.3,406.5 961.9,400.5 965.4,394.5 970.4,389.2 980.4,382.3 1006.4,369.6 1019.9,364.5 1032.4,361.5 1064.4,356.2Z"/>
<path fill="#ffa700" d="M1083.1,358.5 1094.4,357.7 1148.4,356.9 1182.4,359.3 1204.4,359.6 1218.4,360.6 1232.4,362.1 1256.4,366.1 1294.4,374.8 1316.4,378.8 1326.4,382 1339.2,388.5 1354.7,398.5 1359.3,402.5 1360.3,404.5 1360.2,406.5 1357.7,410.5 1351.3,416.5 1344.4,421.2 1336.4,424.8 1328.4,427 1314.4,429.5 1292.4,436.3 1282.4,437.8 1262.4,439.1 1252.2,442.5 1224.9,456.5 1219,460.5 1215.3,464.5 1210.1,474.5 1207.1,478.5 1204.4,481 1200.4,483.2 1184.4,487.4 1160.4,498 1150.4,501.2 1130.4,504.1 1122.4,504.1 1114.4,503.2 1106.4,501.2 1096.4,497.6 1080.4,489.3 1069.7,480.5 1065.4,474.5 1064,470.5 1063.7,466.5 1064.5,462.5 1068.9,454.5 1072.4,451.1 1076.4,448.4 1092.2,442.5 1095.6,440.5 1097.5,438.5 1098.7,434.5 1098.1,432.5 1096.4,430.2 1092.4,428 1088.4,427.4 1072.4,429.7 1064.4,429.8 1038.4,424 1004.4,421 994.4,418.5 982.4,414 977.5,410.5 975.2,406.5 975.2,402.5 976.4,399.5 978.5,396.5 983,392.5 1005.6,378.5 1021,370.5 1028.4,367.7 1036.4,365.8Z"/>
<path fill="#ff8600" d="M1139.3,360.5 1148.4,360.1 1180.4,363.6 1204.4,363 1228.4,365.6 1256.4,370.1 1292.4,379.2 1314.4,382.8 1324.4,386.5 1333.2,392.5 1337.1,396.5 1339.6,400.5 1340.4,406.5 1338.5,410.5 1336.8,412.5 1330.4,416.9 1322.4,419.8 1296.4,426.7 1284.4,428.8 1260.4,430.7 1238.4,438.1 1228.4,440.4 1220.4,441 1204.4,440 1198.4,441.4 1192.8,444.5 1189.5,448.5 1188.4,454.5 1189.3,468.5 1187.8,472.5 1184,476.5 1167.4,488.5 1154.4,495.5 1142.4,498.6 1126.4,499.5 1118.4,498.9 1110.4,497.3 1101.4,494.5 1092.4,490.6 1085.4,486.5 1080.5,482.5 1077.2,478.5 1075.3,474.5 1074.5,470.5 1074.9,466.5 1076.6,462.5 1079.9,458.5 1086.4,453.9 1102.4,446.2 1109.5,440.5 1111.4,436.5 1111.4,434.5 1109.3,430.5 1107.3,428.5 1100.4,424.5 1094.4,422.8 1036.4,417 1026.4,414.9 1019.1,412.5 1010.9,408.5 1006,404.5 1004,400.5 1003.9,398.5 1005.3,394.5 1011.9,386.5 1024.6,376.5 1034.4,371.9 1058.4,368 1090.4,361.4 1116.4,361.8ZM1144.4,430 1140.6,432.5 1139.6,434.5 1139.9,436.5 1141.6,438.5 1146.4,440.5 1150.4,440.7 1152.4,440.5 1155.8,438.5 1156.3,436.5 1154.1,432.5 1150.4,430.2 1146.4,429.6Z"/>
<path fill="#ff6400" d="M1140.6,364.5 1148.4,364 1166.4,367.3 1178.4,368.3 1206.4,367.3 1234.1,370.5 1254.4,374 1266.4,377 1290.4,384.4 1316.4,389 1322.1,392.5 1325.7,396.5 1327.4,400.5 1327.3,404.5 1324.9,408.5 1322.4,410.5 1318.4,412.6 1310.4,415.1 1286.4,420.3 1260.4,423.6 1236.4,430 1226.4,430.8 1218.4,429.9 1202.4,426.4 1184.4,426.9 1176.4,426.4 1150.4,421.3 1142.4,421.2 1126.4,422.6 1120.4,422.2 1102.9,418.5 1088.4,416.8 1056.4,410.2 1036.4,407.7 1030.4,404.9 1027.1,400.5 1026.5,398.5 1026.8,394.5 1029.8,388.5 1034.4,382.2 1036.6,380.5 1040.4,379.1 1058.4,375.1 1090.4,366.1 1118.4,366.7ZM1115.6,450.5 1122.4,449.4 1130.4,450 1142.4,453.4 1160.4,460.3 1165.3,464.5 1167.4,468.5 1167.8,472.5 1165.8,478.5 1159.2,486.5 1152.4,491.1 1144.4,493.7 1134.4,494.5 1120.4,493.8 1108.4,491.2 1096.3,486.5 1087.3,480.5 1084.4,476.5 1083.3,472.5 1083.9,468.5 1086.4,464.2 1090.4,460.8 1096.4,457.5Z"/>
<path fill="#ff4300" d="M1137.4,370.5 1148.4,369.6 1166.4,373.1 1176.4,374.2 1209.3,372.5 1243.8,376.5 1254.4,378.6 1266.4,382.1 1292.4,393.8 1308.4,398 1311.1,400.5 1310.4,402.5 1306.1,404.5 1276.4,413.3 1240.4,421.9 1228.4,423 1220.4,422.1 1200.4,417.9 1168.4,414.9 1090.4,410.8 1082.1,408.5 1068.8,402.5 1062.3,398.5 1058.7,394.5 1058.5,390.5 1059.6,388.5 1064,384.5 1074.3,378.5 1086.4,373.7 1094.4,372.3 1120.4,372.7ZM1117.2,460.5 1124.4,460.3 1132.4,461.7 1140.4,464.4 1148.7,468.5 1151.2,470.5 1153.6,474.5 1153.6,478.5 1151.9,482.5 1147.6,486.5 1142.4,488 1134.4,488.3 1122.4,487.5 1114.4,485.9 1105,482.5 1097.8,478.5 1094,474.5 1093.8,472.5 1094.6,470.5 1099.1,466.5 1108.3,462.5Z"/>
<path fill="#ff1e00" d="M1141,378.5 1150.4,378.6 1174.4,383 1182.4,382.5 1198.4,379.6 1208.4,378.7 1224.4,379.3 1240.4,381.2 1256.4,384.5 1265.8,388.5 1272.3,394.5 1273.7,398.5 1273.5,400.5 1270.6,404.5 1262.4,409 1242.4,414.4 1230.4,415.6 1220.4,414.5 1184.4,405.5 1176.4,404.1 1166.4,404 1146.4,406.2 1118.4,401.2 1092.4,401.8 1089.1,400.5 1086.4,398.5 1083.7,394.5 1083.7,390.5 1084.7,388.5 1088.4,385.4 1094.4,383 1100.4,382.3 1120.4,382.1Z"/>
<path fill="#e40000" d="M1207.8,388.5 1224.4,386.7 1238.4,388 1253.1,392.5 1255.8,394.5 1256.8,396.5 1256.5,398.5 1254.9,400.5 1251.6,402.5 1242.4,405.7 1234.4,407.1 1225.2,406.5 1212.7,402.5 1204.9,398.5 1202.7,396.5 1201.6,394.5 1201.7,392.5 1203.2,390.5Z"/>
<use href="#coast"/>
</g>
<rect x="78.4" y="132.5" width="1331.2" height="656" fill="none" stroke="#000" stroke-width="3.3"/>
<rect x="78.4" y="831.5" width="48.1" height="65.9" fill="#000092"/>
<rect x="125.9" y="831.5" width="48.1" height="65.9" fill="#0000bb"/>
<rect x="173.5" y="831.5" width="48.1" height="65.9" fill="#0000e3"/>
<rect x="221" y="831.5" width="48.1" height="65.9" fill="#0000ff"/>
<rect x="268.6" y="831.5" width="48.1" height="65.9" fill="#0024ff"/>
<rect x="316.1" y="831.5" width="48.1" height="65.9" fill="#0048ff"/>
<rect x="363.7" y="831.5" width="48.1" height="65.9" fill="#006cff"/>
<rect x="411.2" y="831.5" width="48.1" height="65.9" fill="#0090ff"/>
<rect x="458.7" y="831.5" width="48.1" height="65.9" fill="#00b4ff"/>
<rect x="506.3" y="831.5" width="48.1" height="65.9" fill="#00d8ff"/>
<rect x="553.8" y="831.5" width="48.1" height="65.9" fill="#16ffe1"/>
<rect x="601.4" y="831.5" width="48.1" height="65.9" fill="#33ffc4"/>
<rect x="648.9" y="831.5" width="48.1" height="65.9" fill="#50ffa7"/>
<rect x="696.5" y="831.5" width="48.1" height="65.9" fill="#6dff8a"/>
<rect x="744" y="831.5" width="48.1" height="65.9" fill="#8aff6d"/>
<rect x="791.5" y="831.5" width="48.1" height="65.9" fill="#a7ff50"/>
<rect x="839.1" y="831.5" width="48.1" height="65.9" fill="#c4ff33"/>
<rect x="886.6" y="831.5" width="48.1" height="65.9" fill="#e4ff13"/>
<rect x="934.2" y="831.5" width="48.1" height="65.9" fill="#ffea00"/>
<rect x="981.7" y="831.5" width="48.1" height="65.9" fill="#ffc800"/>
<rect x="1029.3" y="831.5" width="48.1" height="65.9" fill="#ffa700"/>
<rect x="1076.8" y="831.5" width="48.1" height="65.9" fill="#ff8600"/>
<rect x="1124.3" y="831.5" width="48.1" height="65.9" fill="#ff6400"/>
<rect x="1171.9" y="831.5" width="48.1" height="65.9" fill="#ff4300"/>
<rect x="1219.4" y="831.5" width="48.1" height="65.9" fill="#ff1e00"/>
<rect x="1267" y="831.5" width="48.1" height="65.9" fill="#e40000"/>
<rect x="1314.5" y="831.5" width="48.1" height="65.9" fill="#bb0000"/>
<rect x="1362.1" y="831.5" width="47.5" height="65.9" fill="#920000"/>
<rect x="78.4" y="831.5" width="1331.2" height="65.9" fill="none" stroke="#000" stroke-width="3.3"/>
<text x="0" y="0" font-size="44.9" text-anchor="middle" transform="translate(77.6,959.3) scale(1.065,1)">0.0</text>
<text x="0" y="0" font-size="44.9" text-anchor="middle" transform="translate(220.2,959.3) scale(1.065,1)">7.5</text>
<text x="0" y="0" font-size="44.9" text-anchor="middle" transform="translate(362.9,959.3) scale(1.065,1)">15.0</text>
<text x="0" y="0" font-size="44.9" text-anchor="middle" transform="translate(505.5,959.3) scale(1.065,1)">22.5</text>
<text x="0" y="0" font-size="44.9" text-anchor="middle" transform="translate(648.1,959.3) scale(1.065,1)">30.0</text>
<text x="0" y="0" font-size="44.9" text-anchor="middle" transform="translate(790.7,959.3) scale(1.065,1)">37.5</text>
<text x="0" y="0" font-size="44.9" text-anchor="middle" transform="translate(933.4,959.3) scale(1.065,1)">45.0</text>
<text x="0" y="0" font-size="44.9" text-anchor="middle" transform="translate(1076,959.3) scale(1.065,1)">52.5</text>
<text x="0" y="0" font-size="44.9" text-anchor="middle" transform="translate(1218.6,959.3) scale(1.065,1)">60.0</text>
<text x="0" y="0" font-size="44.9" text-anchor="middle" transform="translate(1361.3,959.3) scale(1.065,1)">67.5</text>
<path d="M78.4,897.4V912M221,897.4V912M363.7,897.4V912M506.3,897.4V912M648.9,897.4V912M791.5,897.4V912M934.2,897.4V912M1076.8,897.4V912M1219.4,897.4V912M1362.1,897.4V912" stroke="#000" stroke-width="3.3" fill="none"/>
</g>
<g transform="translate(0,985)">
<g clip-path="url(#cm)">
<rect x="77.4" y="131.5" width="1333.2" height="658" fill="#000092"/>
<path fill="#0000bb" d="M76.4,130.5 1412.4,130.5 1412.4,790.5 76.4,790.5ZM440.4,585.9 434.4,588.7 428.4,592.6 420.4,600.9 418.9,606.5 420.8,612.5 424.4,616.4 428.4,618.8 438.4,621.5 446.4,621.9 452.4,621.3 458.4,619.5 462.4,617.3 466.4,613.5 468.7,608.5 468.6,602.5 466.4,598.8 460.4,591.2 454.4,586.6 448.4,584.7 444.4,584.9ZM542.4,250.1 526.4,253.9 512.4,253.8 506.4,254.8 502.4,257.2 500.4,260.3 499.9,262.5 500.7,266.5 502.4,268.8 506.4,270.8 510.4,270.8 522.4,268.3 526.4,268.5 544.4,274.1 554.4,275 564.4,274.4 576.7,272.5 582.4,270.2 585.4,266.5 585.8,262.5 583.9,258.5 580.4,255.5 574.4,252.5 566.4,250.1 558.4,248.8 550.4,248.8ZM630.4,376 626.4,378.2 622.4,381.8 616.2,390.5 612.4,398.5 601,428.5 585.6,458.5 577.9,476.5 572.4,485.8 566.4,493 558.4,500.2 548.4,506.7 531.2,514.5 528.7,516.5 527.5,520.5 528.4,524.8 532.8,530.5 566.4,559.8 583.9,572.5 594.4,581.7 600.4,584.9 608.4,587.5 618.4,589.3 628.4,590 638.4,589.1 646,586.5 652.6,582.5 658.6,576.5 663.4,568.5 667,558.5 669.3,546.5 670.3,532.5 669.3,516.5 660.8,450.5 660.4,436.5 661.9,412.5 660.4,400.1 658.4,394 655.6,388.5 652.4,383.9 648.4,380 644.4,377.4 638.4,375.4 634.4,375.1ZM458.4,703.5 456.4,705.3 455.1,708.5 455.9,712.5 458.4,715.1 462.4,716.5 466.4,716.4 471.6,714.5 473.4,712.5 473.4,710.5 472.1,708.5 466.9,704.5 462.4,702.8ZM508.4,698.4 502.2,700.5 494.7,706.5 492.3,710.5 492.5,712.5 494,714.5 500.4,717.7 508.4,718.7 517.5,716.5 523.8,712.5 525.9,708.5 525.5,706.5 524.1,704.5 516.4,699.5 512.4,698.4ZM614.4,682.4 590.4,685.3 572.4,685.1 564.4,686.7 556.8,690.5 549.9,696.5 545.4,702.5 544.4,706.5 544.9,708.5 548.8,712.5 554.4,715.5 560.4,717.3 568.4,717.8 576.4,716.6 596.4,711.8 620.4,712.4 640.4,709.1 662.4,708.5 667.6,706.5 670.8,702.5 671.5,698.5 670.4,693.8 666.4,688.9 662.1,686.5 654.4,685 640.4,685.3 624.4,682.6Z"/>
<path fill="#0000e3" d="M76.4,130.5 1412.4,130.5 1412.4,787.8 1402.3,790.5 878.5,790.5 864.4,788.3 848.4,787.5 814.4,789 809.9,788.5 804.4,786.4 786.4,775.1 777.6,770.5 770.4,767.7 762.4,765.7 756.4,765.2 748.4,765.9 722.4,772.8 708.4,774.4 700.4,774.1 691.3,772.5 684.4,770.2 677.7,766.5 672.3,760.5 671.4,756.5 672.7,752.5 675.4,748.5 682.8,740.5 701.1,724.5 706.4,718.5 708.8,714.5 711.2,708.5 712.7,696.5 711.5,684.5 708.4,674.1 702.6,662.5 690.1,642.5 687.8,636.5 687.2,632.5 687.4,628.5 689.2,622.5 697.9,606.5 700.5,598.5 706.4,542.5 706.9,530.5 706.3,522.5 704.8,514.5 697.1,488.5 694.4,461.4 688.8,436.5 688.4,428.5 689.3,402.5 685.1,374.5 684.6,350.5 683.1,338.5 680.4,328 676,316.5 657,280.5 644.6,242.5 641.4,236.5 636.8,230.5 628.4,224 622.4,221.2 616.4,219.4 604.4,217.6 566.4,214.9 552.4,215.9 526.4,220.6 504.4,219.9 492.4,220.6 480.7,222.5 460.4,227.1 452.4,228 442.4,227.3 422.9,222.5 412.4,221 358.4,219.8 348.4,221.1 328.4,225.8 311.6,228.5 306.4,230.2 303.7,232.5 303.3,234.5 304.4,236.5 308.4,238.5 324.4,242.9 347.3,252.5 362.4,257 388.4,262.7 400.4,264.5 412.4,264.9 436.4,263.7 442.4,264.3 448.4,265.8 458.4,270.7 470.4,278.9 479,286.5 490.4,300.1 494.4,303.2 498.4,304.8 502.4,305.2 508.4,303.5 521.4,294.5 525.4,292.5 528.4,292 533.6,294.5 544.4,305.5 550.4,309.5 560.4,311.9 576.4,311.8 578.4,312.5 579.3,314.5 578.5,318.5 570.8,334.5 567.7,344.5 563.6,378.5 560.6,392.5 547.4,426.5 539.3,460.5 535.8,468.5 531.9,474.5 524,482.5 504.4,494.2 484.4,509.7 474.4,515.7 466.4,518.8 458.4,520.5 428.4,522 420.4,523.3 416.4,525.1 412.4,528.2 408.8,532.5 406.4,536.7 404,544.5 403.8,552.5 409.5,578.5 411,594.5 410.4,599.1 403.5,612.5 402.9,616.5 403.2,620.5 404.6,624.5 407.2,628.5 418.4,642 426.4,650 439.4,660.5 441.3,662.5 442.1,664.5 440.3,668.5 430.4,680.8 415.2,702.5 398.4,728.2 392.4,733.7 386.4,737.2 378.4,739.8 370.4,741 346.4,742.1 316.4,741.9 266.4,739.6 253,740.5 244.7,742.5 236.4,746.4 230,750.5 225.5,754.5 222.3,758.5 219.3,766.5 216.6,790.5 76.4,790.5ZM392.4,308.4 364.4,312.7 330.4,316.7 312.4,320.1 300.4,323.3 290.4,327.6 282.4,333.8 278.3,340.5 278.2,346.5 281.6,352.5 288.4,357.9 296.4,361.4 306.4,363.5 324.4,365.2 364.4,365.7 398.4,368.8 434.4,369 440.4,368.1 446.4,366.3 452.4,363.4 459.5,358.5 473.5,346.5 477.9,340.5 480.6,334.5 481.3,330.5 480.6,326.5 477.5,322.5 473.8,320.5 458.4,319.7 426.4,312.1 404.4,308.9ZM348.4,590.3 338.4,593.6 329.8,598.5 324.3,604.5 323.6,606.5 323.7,610.5 325.4,614.5 328,618.5 336.4,626.4 344.4,630.1 348.4,630.8 354.4,630.6 362.4,627.9 369.1,622.5 371.9,618.5 373.4,614.5 374,606.5 371.6,598.5 368.6,594.5 366.1,592.5 362.4,590.7 358.4,589.8ZM489.9,578.5 494.4,577.4 500.4,578.8 504.8,582.5 508,588.5 509.8,596.5 514.5,630.5 514.5,642.5 512.6,648.5 510.2,652.5 501.9,660.5 480.4,674.1 474.4,676.3 470.4,676.2 465.8,674.5 455.7,668.5 451.6,664.5 451.6,662.5 454.7,658.5 470.4,642.8 479.4,630.5 482.9,624.5 484,620.5 484.1,614.5 482.3,608.5 478.3,600.5 478.1,594.5 480.2,588.5 482.4,584.8 486.4,580.6Z"/>
<path fill="#0000ff" d="M76.4,130.5 1412.4,130.5 1412.4,740.8 1386.4,747.6 1356.4,753.3 1318.4,758.3 1288.4,760.8 1196.4,765.2 1126.4,766.3 1034.4,762.7 992.4,761.9 968.4,759.1 946.4,755.1 890.4,741.1 854.4,731.2 838.4,725.6 806.4,711.7 774.4,699.4 760.4,692.2 754.2,686.5 750.4,678.9 741.5,646.5 733,620.5 730.4,609.5 727.7,590.5 727.2,574.5 728.7,560.5 733.6,534.5 733.7,522.5 731.1,512.5 721.6,490.5 717.8,478.5 712.6,450.5 710.6,434.5 711.8,402.5 710.4,372.5 713.2,340.5 714.9,290.5 716.8,276.5 719.4,264.5 728.9,238.5 729.5,234.5 728.9,230.5 724.6,222.5 709.6,204.5 699.5,194.5 690.9,188.5 677.6,182.5 654.4,175.1 640.4,172.5 626.4,172 582.4,173 528.4,179.4 492.4,184.5 470.4,186.5 420.4,185.9 390.4,184.8 360.4,185.5 330.4,185 270.4,186.1 232.4,188.5 209.4,190.5 196.4,192.6 186.2,196.5 178.3,202.5 175.6,206.5 174.5,210.5 174.8,214.5 176.2,218.5 181.9,226.5 199.6,244.5 211.2,254.5 222.4,261.8 232.4,266.5 250.4,273.3 258.4,277.4 264.7,282.5 267.1,286.5 267.5,288.5 266.8,292.5 262.7,298.5 256.4,304.1 250.4,307.9 240.4,312 214.2,318.5 205.2,322.5 198.4,327 193.3,332.5 190.4,338.5 189.8,342.5 190.3,346.5 193,350.5 198.6,354.5 212,360.5 226.4,365.4 248.4,370.7 266.4,378.7 276.4,382.1 322.4,391.5 356.4,396.1 366.4,398.9 379.9,404.5 396.4,412.7 416.4,425.1 434.4,434.3 442.4,439.9 451.2,448.5 457,456.5 459.5,462.5 459.9,468.5 457.8,474.5 455.1,478.5 448.4,484.5 442.4,488.2 428.4,494.1 398.4,503.4 388.4,508 381.1,512.5 369.6,522.5 349.6,546.5 342.4,553.6 330.4,561.7 314.4,569.1 284.4,579.5 266.4,583.7 224.4,588.3 214.4,588.1 194.4,586 184.4,586.3 160.4,590.2 134.4,593 128.4,594.5 120.5,598.5 116.3,602.5 114,608.5 115,614.5 119.3,620.5 124.4,624.3 134.4,629.1 154.4,641.6 164.4,646.3 184.4,654.1 190.4,657.4 194.3,660.5 197.2,664.5 198.4,668.5 198,674.5 196.5,678.5 193.8,682.5 188.9,686.5 158.4,697.4 124.4,712.3 112.4,719 87.1,736.5 76.4,742.5Z"/>
<path fill="#0024ff" d="M76.4,130.5 1412.4,130.5 1412.4,552.3 1406.4,552 1400.7,554.5 1396.5,558.5 1395.4,562.5 1396.4,565.8 1398.5,568.5 1402.4,571.1 1410.4,574 1412.4,577 1412.4,693 1390.4,702.7 1370.4,709.2 1324.4,718.9 1284.4,728.1 1246.4,732.8 1176.4,740.1 1118.4,743.5 1090.4,741.7 1064.4,741.1 1034.4,737.9 1006.4,736.5 992.4,734.8 966.4,730.2 948.4,725.9 912.4,715.4 866.4,704.1 858.4,701 850.4,697 835.4,686.5 821.6,674.5 807.3,660.5 788.4,640.2 774.4,623.9 764.4,611 757.5,600.5 752.6,590.5 749.6,580.5 748.8,574.5 749.4,566.5 757.3,536.5 758.4,528.5 758.4,522.5 757.4,516.5 755,510.5 743.5,492.5 737.5,480.5 734.1,470.5 731.7,458.5 730.7,448.5 730.7,436.5 733.5,404.5 734.4,374.5 735.6,360.5 738.4,342.6 742.4,324.3 746.7,308.5 751.1,296.5 754.4,290 759.3,282.5 778.4,258.5 785.4,248.5 790.4,238.5 792.2,228.5 791.1,220.5 787.1,210.5 780.4,198.9 770.4,184.2 762.4,174.2 754.4,166.2 746.4,160.3 738.4,156.1 728.4,152.7 718.4,150.4 685,146.5 660.4,144.7 612.4,143.5 552.4,144.9 478.4,148.5 448.4,149.2 308.4,149.2 204.4,147.1 112.4,149.1 100.4,149.9 90.4,151.8 82.4,154.9 76.4,158.7ZM76.4,206.5 76.4,205.8 95.4,230.5 124.3,272.5 131.6,284.5 134.4,291.1 136.1,298.5 137.7,320.5 139.2,330.5 145,350.5 148.6,358.5 153.7,366.5 158.9,372.5 166.4,379.1 172.4,383.1 180.4,387 204.4,394.4 246.4,404.1 270.4,406.5 284.4,408.9 324.4,417.7 336.4,421.1 346.4,425.3 360.1,432.5 374.4,437 383,440.5 409.2,454.5 414.4,458.4 415.7,460.5 415.7,464.5 414.4,466.9 410.7,470.5 407.4,472.5 372.4,487.3 362.4,492.6 354.4,500.4 330.7,530.5 320.4,541.5 308.2,550.5 300.4,554.2 292.4,556.9 280.4,560.1 268.4,562.2 230.4,565.3 214.4,565.4 188.4,563.7 154.4,564 106.4,563.2 88.4,564.7 76.4,568.1Z"/>
<path fill="#0048ff" d="M948.5,138.5 1062.4,137.2 1172.4,137.4 1204.4,138.3 1232.4,137.9 1254.4,138.9 1278.4,141.9 1290.4,144.6 1302.7,148.5 1316.4,154.1 1326.4,159.3 1339.5,168.5 1364.4,190.7 1392.7,208.5 1412.4,222.3 1412.4,533.3 1400.4,533.3 1392.4,534.2 1370.4,538.9 1362.4,541.4 1351.3,546.5 1345.2,550.5 1341.2,554.5 1338.6,560.5 1339.1,566.5 1341,572.5 1357.7,610.5 1364.4,620.5 1383,640.5 1387,646.5 1387.8,650.5 1387.5,652.5 1385.2,656.5 1381.2,660.5 1366.3,670.5 1346.4,680.7 1336.4,684.5 1316.4,690.5 1288.4,702.6 1268.4,707.9 1248.4,711 1210.4,714.6 1166.4,723.5 1132.4,727.6 1108.4,728 1054.4,724.4 1004.4,718.1 974.4,711.7 954.4,704.9 918.4,689.5 888.4,679.5 878.4,675.5 872.4,672.1 865.3,666.5 836.2,636.5 820.5,622.5 798.4,604.6 788.5,594.5 780.7,582.5 778.4,576.5 777.1,570.5 776.9,560.5 779.4,534.5 778.9,524.5 777.2,516.5 771.2,502.5 759.5,484.5 755.1,476.5 751,466.5 749.3,458.5 749,450.5 749.7,440.5 755.9,404.5 758.5,376.5 761.5,362.5 765.8,348.5 780.5,310.5 789.5,292.5 800.4,277.1 827.4,246.5 832.7,238.5 836.4,230.5 838.6,220.5 837.9,210.5 835.1,200.5 828.8,184.5 827.4,178.5 827.5,174.5 828.5,170.5 833.6,162.5 840.4,156.5 850.4,150.7 860.4,146.8 872.4,143.6 896.4,140.4ZM76.4,286.5 76.4,285.9 78.5,292.5 79.4,298.5 80.5,322.5 81.6,332.5 83.4,340.5 87,348.5 90.4,353.4 95.3,358.5 118.4,375.7 134.4,390 142.1,398.5 152.4,412.7 158.4,418.2 166.4,421.5 178.4,423.2 188.4,423.4 208.4,420.9 220.4,420.7 246.4,423.4 270.4,424.6 284.4,426.9 318.4,436.1 333.9,442.5 351.1,452.5 356.7,456.5 359.5,460.5 358.4,465 342.4,482.4 312.4,519.4 302.4,530.1 296.9,534.5 290.4,538.3 274.4,544.4 252.4,548.8 226.4,550.5 194.4,549 112.4,541.1 94.4,542.1 76.4,546.1Z"/>
<path fill="#006cff" d="M1035.3,164.5 1064.4,164.9 1090.4,164.2 1116.4,164.7 1150.4,164.2 1180.4,168.1 1206.4,169.9 1257.1,178.5 1262.4,181.1 1268.4,186.5 1273.1,192.5 1283.3,208.5 1290,216.5 1298.9,224.5 1307.4,230.5 1321.9,238.5 1368.4,258.1 1412.4,281.7 1412.4,519.4 1400.4,519.7 1390.4,520.8 1370.4,525.5 1349.3,528.5 1328.4,533.1 1314.4,537.5 1307.7,540.5 1299.6,546.5 1294.6,552.5 1292.5,556.5 1291,562.5 1290.9,566.5 1292,572.5 1295.7,580.5 1306.4,594.5 1309.3,600.5 1309.2,604.5 1305.1,618.5 1305.8,626.5 1307.4,630.5 1310,634.5 1321.8,646.5 1324.2,652.5 1324,656.5 1322.2,660.5 1318.4,664.3 1314.9,666.5 1282.4,682.4 1268.4,687.4 1246.4,691.8 1206.4,695.8 1168.4,707.9 1142.4,713.4 1122.4,715.2 1100.4,714.9 1064.4,711.9 1030.4,706.8 996.4,699.2 974.4,692.2 962.4,686.3 934.4,669.7 906.4,654.4 890.4,643.6 868.4,624.5 829.3,594.5 818.4,584.5 810.5,574.5 807.9,568.5 806.4,562.5 803.3,532.5 800.2,518.5 793.3,502.5 779.2,478.5 774.2,468.5 771.2,458.5 770.4,446.5 771.7,434.5 774.5,418.5 778.3,400.5 781.6,388.5 788.4,372.5 804.3,344.5 814.7,310.5 819.9,298.5 828.2,286.5 842.4,271.4 854.4,261.2 882.2,240.5 891.2,232.5 898.8,224.5 903,218.5 905.8,212.5 912.5,190.5 916.1,184.5 920.4,180.5 924.4,178.5 928.4,177.6 950.4,174.8 974.4,170.7 1000.4,168.6ZM76.4,376.5 76.4,374.7 100.4,387.5 110.4,394.6 118.4,402.5 122.8,408.5 125.8,414.5 131.6,434.5 136.4,446 142.4,457 146.4,460.7 148.4,461.2 152.4,460.2 168.4,450.5 178.4,445.8 204.4,439.2 216.4,437.3 226.4,436.6 260.4,438 272.4,439.6 286.4,442.6 302.4,447.3 310.4,450.8 315.4,454.5 319.9,460.5 321.3,466.5 319.6,474.5 314.7,482.5 296.4,505.2 284.4,518.1 276.4,524.2 268.7,528.5 260.4,531.9 252.4,534 242.4,535.5 228.4,536 206.4,535.1 192.4,533.6 176.4,529.7 148.4,519 134.4,516.6 126.4,513.5 122.4,512.9 114.4,513.6 104.4,516 76.4,526.1ZM136.4,487.1 135.3,488.5 135.2,490.5 136.4,492 138.4,491.2 139.4,488.5 138.4,486.6Z"/>
<path fill="#0090ff" d="M1056.5,232.5 1070.4,232.7 1090.4,235.5 1116.4,235.4 1146.4,240.8 1176.4,242.7 1230.4,251.5 1254.4,257.2 1280.4,265.7 1320.4,281.8 1354.4,300 1389.6,322.5 1402.4,327.9 1412.4,330.2 1412.4,506.4 1408.4,506.4 1392.4,509.3 1372.4,510.9 1352.4,515.4 1322.4,520.3 1302.4,526.1 1281.2,534.5 1260.2,544.5 1249.3,552.5 1233,566.5 1226.4,575.2 1221.7,586.5 1219,602.5 1218.9,608.5 1219.9,614.5 1223.3,620.5 1232.7,628.5 1244.7,636.5 1260.8,644.5 1266.4,648.5 1268.9,652.5 1269.3,654.5 1268.8,658.5 1266.3,662.5 1260.6,666.5 1252.4,669 1202.4,679.3 1160.4,695.8 1146.4,699.7 1132.4,702.2 1114.4,703.2 1092.4,701.9 1064.4,698.4 1036.4,692.8 1010.7,684.5 982.5,672.5 972.8,666.5 952.4,651.2 920.4,633.4 906.4,624.7 886.4,609.5 859,586.5 848.2,574.5 839.8,560.5 836,550.5 829.1,526.5 825.2,516.5 818,502.5 802.2,476.5 797.5,466.5 794.5,454.5 794.2,442.5 797.3,414.5 799,406.5 801.7,398.5 808,386.5 823.1,364.5 830.3,352.5 835.9,340.5 847.5,310.5 855.1,296.5 860.4,289.8 866.4,284.2 874.6,278.5 886.4,271.6 908.4,261.1 940.4,249.9 956.4,245.6 978.4,242 1004.4,236.4 1016.4,235.4 1034.4,235.5ZM76.4,390.5 86.4,395.3 96.4,401.8 104,408.5 108.9,414.5 113.4,422.5 116.3,430.5 118.6,440.5 119.4,450.5 118.5,458.5 116.9,464.5 113.1,472.5 108.4,479.2 98.4,488.9 76.4,503ZM235.9,450.5 248.4,450.1 258.4,451.9 271.1,456.5 282.2,462.5 286.2,466.5 287.5,470.5 286,476.5 282.6,482.5 274.4,493 261.2,506.5 254.4,512.5 247.5,516.5 238.4,517.5 220.4,516.3 204.4,513.7 196.4,510.6 194.1,508.5 192.1,504.5 190.8,488.5 186.5,474.5 186.6,468.5 189.1,462.5 191.1,460.5 196.4,458.3Z"/>
<path fill="#00b4ff" d="M1035.3,256.5 1068.4,255 1120.4,256.7 1166.4,261.6 1212.4,270 1248.4,280 1264.4,285.2 1318.4,307.9 1377.4,336.5 1396.6,342.5 1412.4,346.2 1412.4,498.9 1388.4,501.4 1372.4,501.4 1346.4,506.6 1314.4,510.2 1264.1,526.5 1218.7,544.5 1210.4,548.8 1204.4,553.4 1199.3,558.5 1196.4,562.5 1193.3,568.5 1182.5,610.5 1181.1,618.5 1181.9,626.5 1185.5,634.5 1190.4,640.8 1201.2,650.5 1203.6,654.5 1203.4,656.5 1200.4,659.3 1186.4,665.4 1159.2,680.5 1148.4,685 1136.4,688.4 1120.4,690.5 1102.4,690 1072.4,685.2 1049.7,678.5 1036.4,673.2 1027.8,668.5 1008.4,653.5 978.4,634 944.4,622.1 932.4,616.4 920.4,609.4 908.5,600.5 887.7,582.5 877.6,572.5 871.4,564.5 863.9,550.5 855.4,524.5 852,516.5 846.3,506.5 829.1,480.5 823.5,470.5 819,458.5 817.8,448.5 819.4,422.5 822.2,408.5 825.4,400.5 829.9,392.5 854,358.5 879.7,314.5 890.1,302.5 902.4,292.5 912.4,286.2 922.4,281.3 938.4,275.6 958.4,269.6 976.4,265.3 1002.4,260.3ZM76.4,404.5 76.4,403.2 86.4,409.5 92.7,414.5 98.4,420.5 102.5,426.5 105.2,432.5 106.8,438.5 107.4,444.5 107.1,450.5 105.6,456.5 102.8,462.5 100.1,466.5 96.4,470.5 90.4,475.4 76.4,483.4Z"/>
<path fill="#00d8ff" d="M1036.1,272.5 1088.4,270.7 1138.4,273.4 1156.4,275.6 1200.4,284.5 1210.4,287.2 1254.4,301.8 1282.7,312.5 1314.4,323.3 1352.4,337.4 1372.4,346.4 1412.4,355.9 1412.4,493.1 1364.4,496.2 1314.4,501.6 1268.4,513.5 1230.4,527.7 1204.4,534.7 1181.7,548.5 1172,556.5 1169.3,562.5 1168.4,578.5 1166.8,586.5 1163.6,594.5 1158,602.5 1152.4,607.8 1146.4,611.8 1132.4,619.8 1124.4,622.8 1116.4,623 1100.4,620.1 1092.4,619.5 1084.4,620.2 1066.4,624 1058.4,623.7 1038.4,620.8 1032.4,621.3 1014.4,625.4 1004.4,625.3 994.4,623 966,612.5 956.3,608.5 946.4,603.4 930.9,592.5 898.9,564.5 890.4,555.3 883.4,544.5 879.7,536.5 872.4,515.2 868.5,506.5 862.4,495.8 848.2,474.5 842.8,462.5 840.6,452.5 840.1,442.5 841.3,426.5 843.9,412.5 847.4,402.5 852.9,392.5 882.4,354.1 906.4,325.4 916.4,315.3 924.5,308.5 932.4,303.3 942.4,298.1 974.4,285.2 1016.4,275.5ZM1044.4,524.3 1038.4,525.5 1030.4,528.8 1026.4,531.2 1023.2,534.5 1021.9,538.5 1022.8,542.5 1025.7,546.5 1028,548.5 1032.4,550.8 1040.4,552.6 1070.4,554 1084.4,551.9 1088.4,550.1 1091.6,546.5 1091.7,542.5 1090.7,540.5 1088.4,538.7 1080.4,535.7 1060.4,526.1 1054.4,524.5ZM76.4,418.5 76.4,417.3 84.4,422.8 92.4,430.2 95.8,436.5 97,444.5 95.3,452.5 91.6,458.5 86.4,463.4 76.4,469.6ZM1124.7,642.5 1128.4,641.7 1134.4,641.9 1142.4,644 1148.4,646.7 1150.7,648.5 1153.5,652.5 1153.9,656.5 1152.2,660.5 1146.4,666.1 1137.8,670.5 1124.4,674.6 1112.4,675.8 1100.8,674.5 1088.2,670.5 1077.1,664.5 1074.5,660.5 1075.1,656.5 1076.4,654.6 1082.4,651.3 1092.4,649.5 1110.4,648.7Z"/>
<path fill="#16ffe1" d="M1076,286.5 1092.4,285.5 1118.4,287.8 1144.4,288.4 1152.4,289.7 1174.4,295.9 1204.4,302.7 1296.4,329.8 1322.4,338.9 1344.4,343.9 1370.4,353.1 1412.4,364.8 1412.4,486.2 1408.4,487 1388.4,487.2 1372.4,489.8 1356.4,489.6 1344.4,490.6 1302.4,496.9 1262.4,505.3 1228.4,519.1 1200.4,527.1 1170.4,539.5 1162.4,541.5 1148.4,542.8 1144.4,543.9 1139.8,546.5 1135.7,550.5 1134,554.5 1134,556.5 1136.4,561 1146.4,569 1148.4,571.5 1149.2,576.5 1148,580.5 1143.6,586.5 1136.4,591.9 1126.4,596.8 1114.4,600.8 1104.4,602.8 1092.4,604 1058.4,604.3 1040.4,605.4 1016.4,611.3 1006.4,612.2 998.4,611.3 990.4,609 968.1,598.5 961.9,594.5 954.5,588.5 933.5,566.5 908.4,548.2 901.1,540.5 895.8,532.5 892,524.5 881.1,496.5 864.7,468.5 861.4,460.5 860.4,454.5 860.4,446.5 863,416.5 865.1,406.5 867.8,400.5 874.4,390.5 894.4,366.5 928.9,332.5 938.4,324.8 948.4,318.5 964.4,310.6 982.4,303 1028.4,289.6 1036.4,288.2 1060.4,287.7ZM1028.4,516.3 1018.4,519.7 1010.4,524.3 1005.8,528.5 1002.4,534.5 1002.1,538.5 1002.7,540.5 1005.3,544.5 1012.9,550.5 1020.3,554.5 1028.4,557.5 1056.4,564.9 1066.4,566.2 1076.4,564.9 1096.4,559.3 1102.5,556.5 1106.2,552.5 1106.7,550.5 1105.8,546.5 1101.4,540.5 1096.1,536.5 1088,532.5 1080.4,526.1 1074.2,522.5 1063.4,518.5 1052.4,516 1036.4,515ZM76.4,432.5 76.4,431.1 82.4,434.2 84.4,436.1 85.9,438.5 86.8,442.5 86.2,446.5 84,450.5 80.4,454 76.4,456.5Z"/>
<path fill="#33ffc4" d="M1076.9,304.5 1094.4,303.6 1144.4,306 1232.4,323 1268.4,332.7 1292.4,337.8 1316.4,346.7 1336.4,349.4 1348.4,352.2 1390.4,365.5 1412.4,373.8 1412.4,473.7 1400.4,476.8 1370.4,480.3 1346.4,482 1332.4,484.5 1316.4,488.5 1300.4,489.6 1288.4,491.7 1256.4,499.7 1222.4,513.2 1170.4,530.2 1150.4,535.4 1132.4,537.9 1122.4,538.2 1112.4,535.7 1094.4,528.4 1092,526.5 1088.4,521.6 1084.4,518.9 1068.4,513.5 1052.4,509.5 1036.4,508 1016.4,509.3 1000.4,513.5 992.4,517.2 978.4,525.9 956.4,538 948.4,541.1 940.4,541.7 932.4,540.4 924.4,537.5 918.4,534 912.2,528.5 907,520.5 898.3,494.5 883.6,466.5 879.7,454.5 879.1,440.5 880.7,416.5 884.1,404.5 890.8,392.5 902.3,378.5 934.4,347.6 946.4,338.1 958.4,331.2 988.4,319.1 1008.4,313.5 1040.4,307.4ZM981.6,560.5 990.4,559.3 1000.4,559.6 1036.4,567.4 1042.7,570.5 1049,576.5 1050.9,580.5 1050.3,584.5 1046.5,588.5 1043.1,590.5 1018.4,599.3 1006.4,600.9 1000.4,600.2 994.4,598.5 986.3,594.5 977.8,588.5 972,582.5 968.9,576.5 968.3,570.5 969.9,566.5 974.4,562.8ZM1088.2,574.5 1092.4,573.2 1096.4,574.5 1098.4,576.5 1099.1,578.5 1098.8,580.5 1096.4,583.1 1092.6,584.5 1088.4,584.2 1086.4,583.2 1084.7,580.5 1085,578.5Z"/>
<path fill="#50ffa7" d="M1093.1,320.5 1114.4,319.3 1132.4,319.9 1174.4,323.7 1208.4,329.2 1234.4,332.3 1262.4,340.4 1280.4,342.4 1290.4,344.3 1316.4,352.8 1334.4,355.2 1346.4,357.8 1379.9,368.5 1412.4,381.1 1412.4,459.2 1404.4,462.3 1394.4,464.8 1368.4,468.2 1314.4,479.2 1294.4,481.8 1284.4,483.9 1262.4,491.9 1244.4,496.6 1220.3,506.5 1202.4,512.8 1146.4,529.2 1128.4,529.6 1116.4,528 1104.4,523.8 1090.4,514.3 1062.4,505.9 1046.4,502.3 1022.4,500 1002.4,499.6 982.4,502 952.4,510.5 940.4,513 932.4,512.8 928.6,510.5 926.8,506.5 925,496.5 923.1,490.5 920.3,486.5 910.4,476.3 904.7,468.5 900,458.5 897.4,448.5 896.1,428.5 897.5,412.5 901.6,400.5 905.1,394.5 909.7,388.5 934.4,363.3 944.4,354.3 958.4,344.7 972.4,338.3 992.4,331 1008.4,327.3 1032.4,325.1 1060.4,321ZM1004.1,576.5 1009.4,576.5 1015.4,578.5 1017,580.5 1016.3,582.5 1013.9,584.5 1008.9,586.5 1004.4,586.5 1002.4,585.7 999.4,582.5 999.1,580.5 1000.4,578.2Z"/>
<path fill="#6dff8a" d="M1105.8,330.5 1122.4,329.7 1150.4,332.3 1172.4,332.5 1182.4,333.6 1204.4,337.7 1222.4,337.9 1232.4,338.8 1242.4,341 1260.4,347 1278.4,348.1 1290.4,350.1 1314.4,357.3 1342.4,362.4 1367.4,370.5 1412.4,388.4 1412.4,439.7 1402.4,446.5 1390.4,450.8 1324.4,467 1290.4,472.6 1278.4,475.4 1270.1,478.5 1258.4,484.7 1240.4,489.7 1214.4,501.6 1182.4,512.3 1162.4,517.3 1132.4,522.3 1122.4,522 1112.4,519.9 1106.4,517.6 1092.4,510.5 1050.4,496.6 1030.4,492.8 1000.4,486 972.4,483.7 954.4,480.3 944.4,476.5 934.4,471 926.4,465.7 921.2,460.5 919.1,456.5 917.2,450.5 912.5,422.5 912.2,412.5 913.8,404.5 918,396.5 924.5,388.5 942.4,369.6 955.7,358.5 966.4,351.9 977.4,346.5 992.4,341.2 1004.4,338.2 1014.4,337 1034.4,335.9 1060.4,331.5 1090.4,332.1Z"/>
<path fill="#8aff6d" d="M1105.1,338.5 1122.4,337.4 1148.4,340.8 1172.4,339.4 1184.4,340.7 1202.4,344.7 1220.4,343.7 1230.4,344.2 1240.4,346.1 1258.4,351.4 1286.4,354.3 1314.4,361.7 1332.4,365.1 1348.4,369.9 1374.4,379.8 1405.2,394.5 1409.8,398.5 1412.2,402.5 1412.4,412.8 1408.4,420 1402.2,426.5 1394.4,432.2 1385.1,436.5 1354.4,447.2 1316.4,457.9 1284.4,462.2 1264.4,466.9 1256.4,470.2 1232.4,483.1 1213.7,494.5 1206.4,497.8 1168.4,509.6 1130.4,516.1 1118.4,515.4 1108.4,512.7 1081.5,502.5 1054.4,490.9 1028.8,482.5 1006.4,470.7 994.4,465.6 954.4,453.8 944.4,448.4 940.2,444.5 936.4,439.1 930.8,426.5 927.8,416.5 927.5,408.5 929.2,402.5 935.5,392.5 947.1,378.5 958,368.5 968.4,361.5 988.4,351.6 998.4,348.3 1008.4,346 1034.4,344 1060.4,339.4 1070.4,339.2 1090.4,340.5Z"/>
<path fill="#a7ff50" d="M1107,344.5 1124.4,343.7 1146.4,346.9 1162.4,345.4 1172.4,345.1 1184.4,346.3 1202.4,349.5 1218.4,348.6 1228.4,348.9 1238.4,350.4 1258.4,355.3 1278.4,357.6 1290.4,359.9 1333.8,370.5 1344.6,374.5 1372.3,386.5 1381.9,392.5 1390.5,400.5 1392.7,404.5 1392.7,410.5 1389,416.5 1382.4,421.9 1354.4,435.2 1342.4,438.8 1320.4,441.8 1300.4,447.6 1272.4,452.5 1256.4,456.9 1244.4,462.1 1232.4,469.1 1222.4,476.4 1209.2,488.5 1202.4,492.4 1162.4,504.9 1136.4,509.8 1128.4,510.6 1120.4,510.3 1110.4,508.2 1090.4,501.6 1078.9,496.5 1037.6,472.5 1033.6,468.5 1024.4,456.3 1018.4,451.5 1012.4,449.2 994.4,445 962.4,435.9 956.4,432.5 952.4,429.1 946.4,420.5 944,412.5 944.3,404.5 947.1,396.5 951.9,388.5 958.5,380.5 966.4,373.5 974.4,368.2 988.7,360.5 1000.4,355.8 1010.4,353.1 1034.4,350.4 1054.4,346.7 1068.4,345.7 1090.4,346.9Z"/>
<path fill="#c4ff33" d="M1102,350.5 1122.4,349 1146.4,351.2 1170.4,350.2 1202.4,353.2 1226.4,353.2 1282.4,362.7 1320.4,371.2 1330.4,374.5 1339.4,378.5 1354,386.5 1366.3,394.5 1371.1,400.5 1372,406.5 1369,412.5 1364.7,416.5 1356.4,421.9 1348.4,425.8 1334.4,429.8 1314.4,431.3 1302.4,435.9 1292.4,438.6 1264.4,441.5 1248.4,447 1226.4,455.8 1214.4,462.5 1207.5,468.5 1198.4,482.4 1191.3,486.5 1168.9,496.5 1158.4,500.2 1138.4,504.4 1126.4,505.5 1112.4,503.8 1092.4,497.8 1081.4,492.5 1070.2,484.5 1060.6,474.5 1056.3,466.5 1055,458.5 1055.8,446.5 1054.6,442.5 1049.7,436.5 1042.4,431.3 1036.4,428.9 1032.4,428.5 1006.4,431.5 996.4,431 986.4,429.2 976.4,426.3 969,422.5 964.4,418.5 960.6,412.5 959.1,406.5 959.5,400.5 962.5,392.5 966.6,386.5 972.4,380.6 978.4,376.1 990.4,368.9 1000.4,364 1009.6,360.5 1018.4,358.2 1054.4,352.6 1068.4,351.4 1090.4,351.8Z"/>
<path fill="#e4ff13" d="M1110.6,354.5 1124.4,354 1166.4,354.8 1222.4,357.1 1236.4,358.6 1274.4,365.4 1316.4,374.4 1326.7,378.5 1337,384.5 1346.5,392.5 1350.8,398.5 1351.9,404.5 1349.3,410.5 1345.3,414.5 1339,418.5 1330.4,421.7 1288.4,430.6 1278.4,431.3 1260.4,430.9 1256.4,432 1242.4,437.9 1234.4,440.2 1226.4,441.6 1208.4,443 1202.5,446.5 1196.4,448.5 1191.4,452.5 1189,456.5 1184.8,470.5 1181.7,476.5 1176.3,482.5 1168.6,488.5 1160.4,493.2 1150.4,497 1138.4,499.4 1126.4,500.4 1118.4,499.9 1110.4,498.5 1091.7,492.5 1084.6,488.5 1079.5,484.5 1075.8,480.5 1072.1,474.5 1070.5,468.5 1070.6,464.5 1071.9,460.5 1074.4,456.5 1080.4,451.5 1094.4,444.4 1098.4,441 1100,438.5 1100.4,434.5 1099.6,432.5 1095.3,428.5 1088.4,426.6 1072.4,427.4 1064.4,427 1040.4,421.9 996.4,417.9 988.4,416 982.4,413.5 978.2,410.5 975.3,406.5 974.3,402.5 974.5,398.5 976.9,392.5 979.9,388.5 986.9,382.5 998.7,374.5 1008.4,369 1016.4,365.5 1028.4,362.1 1056.4,358ZM1148.4,433.8 1146.9,434.5 1148.4,435 1149,434.5Z"/>
<path fill="#ffea00" d="M1137.5,358.5 1148.4,358.4 1178.4,360.1 1204.4,360 1216.4,360.7 1236.4,362.8 1266.4,367.7 1294.4,375.2 1312.4,378.7 1318.4,380.7 1325.1,384.5 1332,390.5 1335.9,396.5 1336.8,402.5 1334.4,408 1330.4,411.9 1324.4,415.4 1316.4,418.2 1288.4,422.9 1258.4,425.2 1234.4,431.4 1222.4,431.6 1202.4,427.4 1184.4,429.4 1176.4,429.6 1154.4,424.7 1148.4,424.2 1138.4,425.6 1122.4,431.6 1118.4,430.9 1105.4,424.5 1096.4,421.6 1036.4,413.4 1023.7,410.5 1006.9,404.5 1001.5,400.5 999.6,396.5 999.9,392.5 1001.8,388.5 1008.4,380.5 1018.6,372.5 1024.4,369.5 1030.4,367.3 1040.4,365.6 1080.4,361.1ZM1120.1,440.5 1122.4,440.2 1126.4,441.1 1136.4,445.5 1148.4,449.6 1157.7,454.5 1162.5,458.5 1166.2,464.5 1167.2,468.5 1167,472.5 1165.9,476.5 1163.7,480.5 1158.1,486.5 1152,490.5 1144.4,493.1 1132.4,494.9 1120.4,494.9 1108.4,492.7 1096.4,488.8 1088.9,484.5 1084.7,480.5 1082.1,476.5 1080.7,470.5 1081.4,466.5 1084.4,461.5 1090.6,456.5 1116.4,441.9Z"/>
<path fill="#ffc800" d="M1141.3,362.5 1148.4,362.2 1176.4,365.1 1206.4,363.9 1234.4,366.8 1261.6,370.5 1292.4,380.8 1313.4,386.5 1317,388.5 1321.2,392.5 1323.4,396.5 1323.8,400.5 1322.4,404.5 1320.8,406.5 1318.3,408.5 1312.4,411 1258.4,419.6 1238.4,423.8 1228.4,424.5 1196.4,420.3 1156.4,418.2 1120.4,418.6 1088.4,414.1 1045.9,404.5 1036.4,401.8 1030.3,398.5 1026.4,395.4 1024,392.5 1022.5,388.5 1022.8,384.5 1025.9,378.5 1030.3,374.5 1035.4,372.5 1056.4,370.7 1088.4,365 1120.4,364.3ZM1111.2,456.5 1118.4,454.8 1126.4,454.8 1134.4,456.6 1142.4,460.3 1148.4,464.8 1152.4,470.5 1152.8,476.5 1151.1,480.5 1147.3,484.5 1143.4,486.5 1134.4,488.4 1126.4,489.1 1118.4,488.6 1112.4,487.5 1104.4,484.9 1098.4,482 1093.6,478.5 1091,474.5 1090.7,472.5 1091.9,468.5 1094.4,465.4 1098.2,462.5Z"/>
<path fill="#ffa700" d="M1135.2,368.5 1148.4,367.1 1166.4,370.3 1176.4,371.2 1206.4,368.5 1258.4,374 1270.7,378.5 1288.2,388.5 1296.5,394.5 1297.8,396.5 1297.7,398.5 1296,400.5 1288.6,404.5 1271.2,410.5 1242.4,416.9 1228.4,417.9 1180.4,411 1166.4,410.7 1144.4,412 1090.4,407.5 1080.3,404.5 1066.6,398.5 1057.3,392.5 1054.3,388.5 1054.1,386.5 1055.2,384.5 1061.1,380.5 1073.8,374.5 1085.6,370.5 1094.4,369.6 1118.4,370.5ZM1114.8,468.5 1120.4,467 1126.4,467.7 1131.3,470.5 1132.7,472.5 1133.1,474.5 1132.3,476.5 1128.4,479 1122.4,480.2 1118.4,479.6 1114.4,477.8 1111.3,474.5 1111.2,472.5 1112.2,470.5Z"/>
<path fill="#ff8600" d="M1143.1,374.5 1150.4,374.5 1166.4,379.5 1174.4,380.5 1182.4,379.9 1198.4,375.5 1204.4,374.5 1254.4,378.8 1260.8,380.5 1267.3,384.5 1272.5,390.5 1273.5,394.5 1271.9,398.5 1270,400.5 1260.4,405.8 1244.4,410 1230.4,411.2 1222.4,410.3 1206.4,407 1188.4,401.6 1178.4,399.6 1166.4,399.9 1146.4,404.1 1120.4,398.3 1096.4,397.3 1090.4,395.6 1085,392.5 1082.4,389.9 1081.1,386.5 1082.3,382.5 1083.8,380.5 1086.1,378.5 1090.4,376.4 1095.6,376.5 1110.4,379.5 1118.4,379.9 1126.4,379Z"/>
<path fill="#ff6400" d="M1214.3,386.5 1220.4,385.2 1228.4,384.6 1242.4,385.5 1247.7,386.5 1252.7,388.5 1254.8,390.5 1255.4,392.5 1254.9,394.5 1253.3,396.5 1246.1,400.5 1238.4,402.6 1230.4,402.8 1220.4,399.9 1214.3,396.5 1212.1,394.5 1210.6,390.5 1211.4,388.5Z"/>
<use href="#coast"/>
</g>
<rect x="78.4" y="132.5" width="1331.2" height="656" fill="none" stroke="#000" stroke-width="3.3"/>
<rect x="78.4" y="831.5" width="48.1" height="65.9" fill="#000092"/>
<rect x="125.9" y="831.5" width="48.1" height="65.9" fill="#0000bb"/>
<rect x="173.5" y="831.5" width="48.1" height="65.9" fill="#0000e3"/>
<rect x="221" y="831.5" width="48.1" height="65.9" fill="#0000ff"/>
<rect x="268.6" y="831.5" width="48.1" height="65.9" fill="#0024ff"/>
<rect x="316.1" y="831.5" width="48.1" height="65.9" fill="#0048ff"/>
<rect x="363.7" y="831.5" width="48.1" height="65.9" fill="#006cff"/>
<rect x="411.2" y="831.5" width="48.1" height="65.9" fill="#0090ff"/>
<rect x="458.7" y="831.5" width="48.1" height="65.9" fill="#00b4ff"/>
<rect x="506.3" y="831.5" width="48.1" height="65.9" fill="#00d8ff"/>
<rect x="553.8" y="831.5" width="48.1" height="65.9" fill="#16ffe1"/>
<rect x="601.4" y="831.5" width="48.1" height="65.9" fill="#33ffc4"/>
<rect x="648.9" y="831.5" width="48.1" height="65.9" fill="#50ffa7"/>
<rect x="696.5" y="831.5" width="48.1" height="65.9" fill="#6dff8a"/>
<rect x="744" y="831.5" width="48.1" height="65.9" fill="#8aff6d"/>
<rect x="791.5" y="831.5" width="48.1" height="65.9" fill="#a7ff50"/>
<rect x="839.1" y="831.5" width="48.1" height="65.9" fill="#c4ff33"/>
<rect x="886.6" y="831.5" width="48.1" height="65.9" fill="#e4ff13"/>
<rect x="934.2" y="831.5" width="48.1" height="65.9" fill="#ffea00"/>
<rect x="981.7" y="831.5" width="48.1" height="65.9" fill="#ffc800"/>
<rect x="1029.3" y="831.5" width="48.1" height="65.9" fill="#ffa700"/>
<rect x="1076.8" y="831.5" width="48.1" height="65.9" fill="#ff8600"/>
<rect x="1124.3" y="831.5" width="48.1" height="65.9" fill="#ff6400"/>
<rect x="1171.9" y="831.5" width="48.1" height="65.9" fill="#ff4300"/>
<rect x="1219.4" y="831.5" width="48.1" height="65.9" fill="#ff1e00"/>
<rect x="1267" y="831.5" width="48.1" height="65.9" fill="#e40000"/>
<rect x="1314.5" y="831.5" width="48.1" height="65.9" fill="#bb0000"/>
<rect x="1362.1" y="831.5" width="47.5" height="65.9" fill="#920000"/>
<rect x="78.4" y="831.5" width="1331.2" height="65.9" fill="none" stroke="#000" stroke-width="3.3"/>
<text x="0" y="0" font-size="44.9" text-anchor="middle" transform="translate(77.6,959.3) scale(1.065,1)">0.0</text>
<text x="0" y="0" font-size="44.9" text-anchor="middle" transform="translate(220.2,959.3) scale(1.065,1)">7.5</text>
<text x="0" y="0" font-size="44.9" text-anchor="middle" transform="translate(362.9,959.3) scale(1.065,1)">15.0</text>
<text x="0" y="0" font-size="44.9" text-anchor="middle" transform="translate(505.5,959.3) scale(1.065,1)">22.5</text>
<text x="0" y="0" font-size="44.9" text-anchor="middle" transform="translate(648.1,959.3) scale(1.065,1)">30.0</text>
<text x="0" y="0" font-size="44.9" text-anchor="middle" transform="translate(790.7,959.3) scale(1.065,1)">37.5</text>
<text x="0" y="0" font-size="44.9" text-anchor="middle" transform="translate(933.4,959.3) scale(1.065,1)">45.0</text>
<text x="0" y="0" font-size="44.9" text-anchor="middle" transform="translate(1076,959.3) scale(1.065,1)">52.5</text>
<text x="0" y="0" font-size="44.9" text-anchor="middle" transform="translate(1218.6,959.3) scale(1.065,1)">60.0</text>
<text x="0" y="0" font-size="44.9" text-anchor="middle" transform="translate(1361.3,959.3) scale(1.065,1)">67.5</text>
<path d="M78.4,897.4V912M221,897.4V912M363.7,897.4V912M506.3,897.4V912M648.9,897.4V912M791.5,897.4V912M934.2,897.4V912M1076.8,897.4V912M1219.4,897.4V912M1362.1,897.4V912" stroke="#000" stroke-width="3.3" fill="none"/>
</g>
<g transform="translate(0,1970)">
<g clip-path="url(#cm)">
<rect x="77.4" y="131.5" width="1333.2" height="658" fill="#0000c8"/>
<path fill="#0040ff" d="M73,256.1 81.2,256.6 87.7,257.6 97.4,259 110.3,260.9 123.2,263 136.2,265.3 149.1,267.7 162,270.3 175,272.7 187.9,275 200.8,277.1 213.7,279 226.7,280.8 239.6,282.4 252.5,283.9 265.4,285.2 278.4,286.3 291.3,287.3 304.2,288.1 317.1,288.7 330.1,289.2 343,289.5 355.9,289.7 368.9,289.7 381.8,289.5 394.7,289.2 407.6,288.7 420.6,288.1 433.5,287.4 446.4,286.8 459.3,286.2 472.3,285.5 485.2,284.9 498.1,284.2 511.1,283.6 524,282.9 536.9,282.4 549.8,282.1 562.8,282 575.7,282 588.6,282 601.5,282.1 614.5,282.3 627.4,282.6 640.3,282.9 653.3,283.2 666.2,283.6 679.1,284 691.6,284.3 703.8,284.6 715.6,284.9 726.9,285.2 738.7,285.2 750.9,284.8 763.4,284.2 776.3,283.3 789.2,282.4 802.2,281.5 815.1,280.6 828,279.7 841,278.9 853.9,278.1 866.8,277.4 879.7,276.7 892.7,276.1 905.6,275.4 918.5,274.8 931.4,274.1 944.4,273.6 957.3,273 970.2,272.6 983.1,272.2 996.1,271.9 1009,271.7 1021.9,271.6 1034.9,271.6 1047.8,271.8 1060.7,272.1 1073.6,272.6 1086.6,273.2 1099.5,274 1112.4,275 1125.3,276.1 1138.3,277.4 1151.2,278.6 1164.1,279.5 1177.1,280.3 1190,281 1202.9,281.2 1215.8,281.1 1228.8,280.6 1241.7,279.7 1253,278.6 1262.7,277.3 1270.8,275.8 1277.2,274.1 1283.7,272.6 1290.2,271.3 1296.6,270.1 1303.1,269 1309.6,268 1316,267.1 1322.5,266.1 1328.9,265.2 1335.4,264.3 1341.9,263.4 1348.3,262.5 1354.8,261.6 1362.5,260.7 1371.4,259.7 1381.6,258.7 1392.9,257.7 1401.5,256.9 1407.2,256.4 1415,256.1 1415,739.6 1407.2,739.1 1401.5,738.1 1392.9,736.7 1381.6,734.7 1369.8,732.5 1357.6,729.9 1345.1,727 1332.2,723.7 1319.3,720.5 1306.3,717.3 1293.4,714 1280.5,710.8 1269.5,707.7 1260.4,704.8 1253.3,702.1 1248.2,699.5 1243.3,696.6 1238.8,693.4 1234.6,689.8 1230.7,685.9 1226.8,682 1222.9,678.2 1219.1,674.3 1215.2,670.4 1211.3,667 1207.4,664.1 1203.6,661.7 1199.7,659.7 1194.5,658.2 1188,657 1180.3,656.3 1171.2,655.9 1161.2,655.2 1150.2,654.2 1138.3,653 1125.3,651.4 1114,649.8 1104.3,648 1096.3,646.2 1089.8,644.2 1083.3,642.1 1076.9,639.9 1070.4,637.4 1063.9,634.9 1057.8,632.7 1052,631 1046.5,629.6 1041.3,628.7 1035.5,627.9 1029,627.3 1021.9,626.8 1014.2,626.4 1005.1,626.1 994.8,625.9 983.1,625.8 970.2,625.8 957.3,625.8 944.4,625.8 931.4,625.8 918.5,625.8 905.6,625.9 892.7,626.1 879.7,626.4 866.8,626.8 854.5,627.5 842.9,628.4 831.9,629.7 821.6,631.2 812.5,633.1 804.8,635.1 798.3,637.4 793.1,640 788.3,642.9 783.8,646.2 779.5,649.7 775.7,653.6 771.8,657.8 767.9,662.3 764,667.2 760.2,672.3 756.6,677 753.4,681.2 750.5,685 747.9,688.2 743.1,691.1 736.1,693.7 726.9,695.9 715.6,697.9 703.8,699.6 691.6,701 679.1,702.1 666.2,703.1 653.3,703.9 640.3,704.7 627.4,705.4 614.5,706 601.5,706.8 588.6,707.6 575.7,708.5 562.8,709.6 549.8,710.7 536.9,711.8 524,713.1 511.1,714.4 498.1,715.7 485.2,716.9 472.3,718.2 459.3,719.5 446.4,720.8 433.5,722.1 420.6,723.4 407.6,724.7 394.7,725.9 381.8,727.1 368.9,728.2 355.9,729.2 343,730.2 330.1,731.2 317.1,732.1 304.2,733 291.3,733.9 278.4,734.7 265.4,735.4 252.5,736 239.6,736.7 226.7,737.3 213.7,738 200.8,738.6 187.9,739.2 175,739.7 162,740.2 149.1,740.5 136.2,740.7 123.2,740.7 110.3,740.5 97.4,740.2 87.7,739.9 81.2,739.7 73,739.6Z"/>
<path fill="#00c0ff" d="M73,297.5 81.2,297.6 87.7,298 97.4,298.4 110.3,299.1 123.2,300.1 136.2,301.3 149.1,303 162,304.9 175,306.8 187.9,308.8 200.8,310.7 213.7,312.7 226.7,314.5 239.6,316.3 252.5,318.1 265.4,319.8 278.4,321.3 291.3,322.5 304.2,323.6 317.1,324.5 330.1,325.3 343,326 355.9,326.5 368.9,326.9 381.8,327.1 394.7,327.1 407.6,326.9 420.6,326.5 433.5,326 446.4,325.3 459.3,324.5 472.3,323.6 485.2,322.9 498.1,322.2 511.1,321.7 524,321.3 536.9,321.3 549.8,321.5 562.8,322.1 575.7,323 588.6,324.1 601.5,325.4 614.5,326.9 627.4,328.6 640.3,330.1 653.3,331.6 666.2,333 679.1,334.3 691.6,335.4 703.8,336.2 715.6,336.8 726.9,337.2 738.7,337.1 750.9,336.4 763.4,335.3 776.3,333.6 787.6,331.9 797.3,330.2 805.4,328.6 811.9,326.9 818.3,325.2 824.8,323.6 831.3,322 837.7,320.5 845.8,318.9 855.5,317.4 866.8,315.8 879.7,314.3 892.7,312.9 905.6,311.8 918.5,310.8 931.4,310 944.4,309.4 957.3,308.8 970.2,308.5 983.1,308.2 996.1,308.1 1009,308.1 1021.9,308.2 1034.9,308.5 1046.2,309.1 1055.9,310 1063.9,311.4 1070.4,313 1076.9,315.1 1083.3,317.6 1089.8,320.4 1096.3,323.6 1102.7,326.9 1109.2,330.1 1115.7,333.3 1122.1,336.6 1128.6,339.5 1135,342.1 1141.5,344.3 1148,346.3 1156,348.1 1165.7,349.9 1177.1,351.5 1190,353.1 1202.9,354.5 1215.8,356 1228.8,357.3 1241.7,358.6 1253,359.5 1262.7,360 1270.8,360.2 1277.2,359.9 1283.7,359.2 1290.2,358.1 1296.6,356.6 1303.1,354.7 1309.6,352.2 1316,349.3 1322.5,345.9 1328.9,342.1 1335.4,338.2 1341.9,334.3 1348.3,330.4 1354.8,326.6 1361.3,322.7 1367.7,318.8 1374.2,314.9 1380.7,311 1386.7,307.7 1392.4,304.9 1397.7,302.7 1402.6,301 1406.3,299.8 1408.8,298.9 1415,298.5 1415,664.6 1408.8,664.5 1406.3,664.4 1402.6,664.2 1397.7,663.9 1392.4,663.3 1386.7,662.4 1380.7,661 1374.2,659.4 1367.7,657.3 1361.3,654.8 1354.8,652 1348.3,648.8 1341.9,645.2 1335.4,641.3 1328.9,637.1 1322.5,632.6 1316,628.2 1309.6,624 1303.1,620 1296.6,616.1 1290.2,612.6 1283.7,609.3 1277.2,606.4 1270.8,603.8 1262.7,601.3 1253,598.7 1241.7,596.1 1228.8,593.5 1215.8,591.1 1202.9,588.8 1190,586.7 1177.1,584.8 1164.1,582.9 1151.2,581.2 1138.3,579.5 1125.3,578 1114,576.4 1104.3,574.8 1096.3,573.1 1089.8,571.5 1083.3,569.5 1076.9,567.4 1070.4,565.1 1063.9,562.5 1057.5,559.9 1051,557.3 1044.6,554.7 1038.1,552.1 1031,549.6 1023.2,547.2 1014.8,545 1005.8,542.8 997.4,541 989.6,539.7 982.5,538.9 976,538.5 970.2,538.5 965.1,539 960.5,539.8 956.6,541.1 952.8,542.9 948.9,545.2 945,547.9 941.1,551.2 936.9,554.9 932.4,559.1 927.6,563.8 922.4,568.9 916.9,573.4 911.1,577.1 904.9,580.2 898.5,582.5 891,584.5 882.6,586.1 873.3,587.4 862.9,588.3 851.9,588.9 840.3,589.4 828,589.6 815.1,589.6 803.8,589.8 794.1,590.3 786,591 779.5,591.9 773.1,592.8 766.6,593.8 760.2,594.8 753.7,595.8 746,597.7 737.1,600.5 726.9,604.2 715.6,608.7 703.8,613.4 691.6,618.2 679.1,623.2 666.2,628.4 653.3,633.2 640.3,637.8 627.4,642 614.5,645.8 601.5,649.4 588.6,652.6 575.7,655.5 562.8,658.1 549.8,660.4 536.9,662.3 524,663.9 511.1,665.2 498.1,666.3 485.2,667 472.3,667.6 459.3,667.8 446.4,668 433.5,668.1 420.6,668.2 407.6,668.2 394.7,668.1 381.8,668 368.9,667.8 355.9,667.6 343,667.3 330.1,667 317.1,666.6 304.2,666.2 291.3,665.8 278.4,665.3 265.4,664.9 252.5,664.3 239.6,663.8 226.7,663.1 213.7,662.4 200.8,661.6 187.9,661 175,660.5 162,660.1 149.1,659.8 136.2,659.9 123.2,660.3 110.3,661 97.4,662 87.7,662.8 81.2,663.3 73,663.6Z"/>
<path fill="#49ffad" d="M73,336.2 81.2,336.3 87.7,336.5 97.4,336.8 110.3,337.2 123.2,337.7 136.2,338.4 149.1,339.2 162,340.1 175,341.1 187.9,342.2 200.8,343.4 213.7,344.6 226.7,346.1 239.6,347.7 252.5,349.5 265.4,351.4 278.4,353.2 291.3,354.8 304.2,356.3 317.1,357.6 330.1,358.7 343,359.7 355.9,360.5 368.9,361.1 381.8,361.5 394.7,361.5 407.6,361.1 420.6,360.5 433.5,359.8 446.4,359.2 459.3,358.5 472.3,357.9 485.2,357.5 498.1,357.4 511.1,357.5 524,357.9 535.3,358.4 545,359.1 553.1,359.8 559.5,360.7 566,361.9 572.5,363.3 578.9,365 585.4,366.9 591.8,369.4 598.3,372.3 604.8,375.7 611.2,379.6 617.1,383.8 622.2,388.3 626.8,393.1 630.6,398.3 634.2,403 637.4,407.2 640.3,410.9 642.9,414.1 646.1,417.4 650,420.6 654.5,423.8 659.7,427.1 665.5,429.6 672,431.6 679.1,432.9 686.9,433.5 694.3,433.8 701.4,433.7 708.2,433.1 714.7,432.2 720.7,431.4 726.4,430.5 731.7,429.7 736.6,428.9 743.5,428 752.5,426.8 763.4,425.4 776.3,423.9 787.6,422.2 797.3,420.5 805.4,418.7 811.9,416.7 818.3,414.5 824.8,411.9 831.3,409 837.7,405.7 844.2,402 850.6,397.8 857.1,393.1 863.6,388 870,383.3 876.5,379.1 883,375.4 889.4,372.1 895.9,369.5 902.4,367.4 908.8,365.9 915.3,365 921.7,364.4 928.2,364.1 934.7,364 941.1,364.3 949.2,364.8 958.9,365.6 970.2,366.6 983.1,367.9 996.1,369.2 1009,370.5 1021.9,371.8 1034.9,373.1 1047.8,374.5 1060.7,376.2 1073.6,377.9 1086.6,379.9 1099.5,381.7 1112.4,383.3 1125.3,384.7 1138.3,386 1151.2,387.4 1164.1,388.9 1177.1,390.5 1190,392.2 1202.9,393.8 1215.8,395.4 1228.8,397 1241.7,398.6 1253.3,399.7 1263.7,400.5 1272.7,400.9 1280.5,400.9 1287.6,400.6 1294,399.9 1299.9,398.9 1305,397.7 1310.5,395.7 1316.3,393.1 1322.5,389.9 1328.9,386 1335.4,382 1341.9,377.8 1348.3,373.4 1354.8,368.9 1361.3,364.5 1367.7,360.3 1374.2,356.3 1380.7,352.4 1386.7,348.9 1392.4,345.9 1397.7,343.3 1402.6,341.1 1406.3,339.4 1408.8,338.3 1415,337.8 1415,607.7 1407.2,606.9 1401.5,605.3 1392.9,602.9 1381.6,599.6 1369.8,596.4 1357.6,593.2 1345.1,589.9 1332.2,586.7 1319.3,583.6 1306.3,580.7 1293.4,578 1280.5,575.4 1267.5,572.8 1254.6,570.2 1241.7,567.6 1228.8,565.1 1217.5,562.9 1207.8,561 1199.7,559.6 1193.2,558.6 1186.8,557.6 1180.3,556.6 1173.8,555.7 1167.4,554.8 1159.3,553.8 1149.6,552.7 1138.3,551.5 1125.3,550.2 1114,549 1104.3,547.8 1096.3,546.7 1089.8,545.7 1083.3,544.5 1076.9,543.2 1070.4,541.8 1063.9,540.2 1057.5,538.4 1051,536.4 1044.6,534 1038.1,531.4 1031.6,528.7 1025.2,525.8 1018.7,522.7 1012.2,519.5 1005.8,516.3 999.3,513 992.8,509.8 986.4,506.6 979.9,503.5 973.5,500.6 967,497.8 960.5,495.2 954.1,492.9 947.6,490.8 941.1,488.9 934.7,487.2 928.2,485.8 921.7,484.9 915.3,484.3 908.8,484 902.4,484.5 895.9,485.6 889.4,487.5 883,490.1 876.5,493.1 870,496.7 863.6,500.7 857.1,505.3 850.6,509.5 844.2,513.3 837.7,516.9 831.3,520.1 824.8,522.9 818.3,525.1 811.9,526.9 805.4,528.2 798.9,529.2 792.5,530 786,530.5 779.5,530.8 773.1,530.9 766.6,530.7 760.2,530.4 753.7,529.9 746.7,529.6 739,529.6 730.8,529.9 722,530.4 713.8,531.4 706.2,532.8 699.1,534.7 692.7,537 686.5,539.7 680.7,542.8 675.2,546.3 670.1,550.2 664.6,554.4 658.7,558.9 652.6,563.8 646.1,568.9 638.7,574.3 630.3,579.8 620.9,585.4 610.6,591.2 599.6,596.7 588,601.9 575.7,606.7 562.8,611.3 549.8,615.2 536.9,618.7 524,621.5 511.1,623.9 498.1,625.8 485.2,627.5 472.3,628.7 459.3,629.6 446.4,630.3 433.5,630.9 420.6,631.2 407.6,631.3 394.7,631.3 381.8,631.2 368.9,630.9 355.9,630.5 343,630.1 330.1,629.6 317.1,629 304.2,628.3 291.3,627.6 278.4,626.7 265.4,625.8 252.5,624.8 239.6,623.7 226.7,622.5 213.7,621.3 200.8,620 187.9,618.7 175,617.4 162,616.1 149.1,614.8 136.2,613.7 123.2,612.7 110.3,611.9 97.4,611.3 87.7,610.8 81.2,610.5 73,610.3Z"/>
<path fill="#b1ff46" d="M46.3,374 52.8,374 61.8,374.1 73.5,374.2 87.7,374.4 104.5,374.6 120.3,375.2 135.2,375.9 149.1,377 162,378.3 174.3,379.9 185.9,381.8 196.9,384.1 207.3,386.7 217,389.6 226,392.8 234.4,396.4 242.2,400.2 248.5,404 253.3,407.5 256.7,410.9 258.7,414.1 259.3,417.4 258.7,420.6 256.7,423.8 253.5,427.1 249.4,431.1 244.6,435.9 238.9,441.6 232.5,448.1 226.5,454.9 221,462 216,469.4 211.5,477.2 207.8,484.6 204.8,491.7 202.7,498.5 201.5,504.9 201.3,511.4 202.3,517.9 204.4,524.3 207.6,530.8 211.6,536.9 216.5,542.8 222.1,548.3 228.6,553.4 234,558.1 238.4,562.3 241.8,566 244.1,569.3 245,572.4 244.3,575.5 242.2,578.6 238.6,581.5 234.2,584 229.2,585.9 223.4,587.4 217,588.3 208.9,588.3 199.2,587.5 187.9,585.7 175,583.2 162,580.4 149.1,577.5 136.2,574.4 123.2,571.2 111,568.6 99.3,566.8 88.3,565.6 78,565.1 68.6,564.6 60.2,564.3 52.8,564.1 46.3,564 41.5,552 38.2,528.2 36.6,492.6 36.6,445.2 38.2,409.6 41.5,385.9ZM429.3,458.1 437.7,460 445.9,462.1 454,464.4 461.9,466.8 469.7,469.4 477.1,472.3 484.2,475.5 491,479.1 497.5,483 503.4,487 508.7,491.2 513.4,495.6 517.5,500.1 520.7,504.3 523,508.2 524.3,511.7 524.7,515 524.2,518.7 522.8,522.9 520.4,527.6 517.2,532.7 513.5,538.2 509.3,544 504.6,550.2 499.4,556.7 493.9,562.8 488.1,568.6 482,574.1 475.5,579.3 468.7,584 461.6,588.2 454.2,591.9 446.4,595.1 438.3,597.8 429.9,599.8 421.2,601.3 412.2,602.2 402.8,602.5 393.1,602.2 383.1,601.3 372.7,599.7 362.7,597.8 353,595.6 343.7,593.1 334.6,590.3 326.8,587.2 320.2,584 314.8,580.6 310.7,576.9 307.6,573.4 305.7,570 304.9,566.7 305.1,563.4 306.1,559.9 307.9,556 310.4,551.8 313.6,547.3 316.8,542.6 320.1,537.7 323.3,532.7 326.5,527.6 329.6,522.1 332.5,516.3 335.2,510.1 337.8,503.7 340.7,497.5 344,491.7 347.5,486.2 351.4,481 355.9,476.2 361.1,471.9 366.9,467.8 373.4,464.2 380.3,461.3 387.8,459 395.7,457.4 404.1,456.5 412.5,456.3 420.9,456.9ZM965.4,433.2 969.9,430.6 974.9,428.5 980.4,426.9 986.4,425.8 992.8,425.1 1000.9,424.5 1010.6,423.8 1021.9,423.2 1034.9,422.5 1047.8,421.9 1060.7,421.2 1073.6,420.6 1086.6,419.9 1099.5,419.2 1112.4,418.5 1125.3,417.6 1138.3,416.7 1149.6,415.9 1159.3,415.3 1167.4,414.8 1173.8,414.4 1180.3,414.4 1186.8,414.9 1193.2,415.7 1199.7,417 1207.8,418.8 1217.5,421.1 1228.8,423.8 1241.7,427.1 1253.3,429.8 1263.7,432.1 1272.7,433.8 1280.5,435.1 1287.6,435.9 1294,436.3 1299.9,436.1 1305,435.5 1310.5,434.2 1316.3,432.2 1322.5,429.6 1328.9,426.4 1335.4,422.7 1341.9,418.5 1348.3,413.8 1354.8,408.6 1361.3,403.6 1367.7,398.8 1374.2,394.1 1380.7,389.6 1387.1,385.6 1393.6,382.1 1400,379.1 1406.5,376.6 1412.3,374.5 1417.5,372.8 1422,371.4 1425.9,370.4 1430.4,369.5 1435.6,368.8 1441.4,368.2 1447.9,367.9 1452.7,380.2 1456,405.2 1457.6,442.9 1457.6,493.3 1456,531 1452.7,555.8 1447.9,568 1441.4,567.3 1435.6,566.7 1430.4,566.2 1425.9,565.8 1422,565.4 1415.9,564.6 1407.5,563.4 1396.8,561.9 1383.9,559.9 1371,558 1358,556.2 1345.1,554.3 1332.2,552.5 1319.3,550.7 1306.3,549 1293.4,547.3 1280.5,545.6 1267.5,543.9 1254.6,542.2 1241.7,540.6 1228.8,538.9 1215.8,537.1 1202.9,535.1 1190,533.1 1177.1,530.9 1164.1,528.6 1151.2,526.2 1138.3,523.7 1125.3,521.1 1114,518.7 1104.3,516.4 1096.3,514.3 1089.8,512.4 1083.3,510.4 1076.9,508.5 1070.4,506.6 1063.9,504.6 1057.5,502.4 1051,499.8 1044.6,496.9 1038.1,493.6 1031.6,490.1 1025.2,486.2 1018.7,482 1012.2,477.5 1005.8,473.1 999.3,468.9 992.8,464.9 986.4,461 980.4,457 974.9,452.8 969.9,448.4 965.4,443.9 963.1,439.8 963.1,436.3Z"/>
<path fill="#ffd000" d="M46.3,409.3 52.8,409.5 60.2,409.8 68.6,410.4 78,411.2 88.3,412.3 97.7,413.5 106.1,415 113.5,416.7 120,418.7 126.2,420.9 132,423.5 137.5,426.4 142.6,429.6 147,433.2 150.6,437.1 153.3,441.3 155.2,445.8 156.4,450.5 156.7,455.3 156.2,460.3 154.9,465.5 152.8,470.5 149.9,475.4 146.2,480.1 141.7,484.6 136.3,488.5 130.2,491.9 123.2,494.7 115.5,496.9 107.1,498.6 98,499.9 88.3,500.7 78,501.1 68.6,501.5 60.2,501.7 52.8,501.9 46.3,502 41.5,496.3 38.2,484.7 36.6,467.3 36.6,444.1 38.2,426.6 41.5,415.1ZM1075.6,461.6 1079.5,459.1 1084.3,456.7 1090.1,454.6 1096.9,452.7 1104.7,451 1113.1,449.6 1122.1,448.5 1131.8,447.7 1142.2,447.2 1151.5,446.8 1159.9,446.7 1167.4,446.8 1173.8,447 1180.3,447.7 1186.8,448.8 1193.2,450.3 1199.7,452.3 1206.1,454.4 1212.6,456.6 1219.1,459.1 1225.5,461.6 1232,464.2 1238.5,466.8 1244.9,469.4 1251.4,472 1257.5,474.7 1263.3,477.6 1268.8,480.7 1274,483.9 1277.6,486.8 1279.5,489.4 1279.8,491.7 1278.5,493.6 1275.9,495.2 1272.1,496.3 1266.9,497.1 1260.4,497.5 1253,497.7 1244.6,497.7 1235.2,497.5 1224.9,497.1 1213.9,496.8 1202.3,496.6 1190,496.5 1177.1,496.5 1164.8,496.4 1153.1,496.1 1142.2,495.6 1131.8,494.9 1122.4,494.1 1114,493.1 1106.6,492 1100.1,490.7 1094.3,489.1 1089.2,487.2 1084.6,484.9 1080.7,482.3 1077.5,479.6 1074.9,476.7 1073,473.6 1071.7,470.4 1071.7,467.3 1073,464.4ZM1447.9,402.4 1441.4,403.5 1435.6,404.5 1430.4,405.4 1425.9,406.4 1422,407.3 1417.5,408.8 1412.3,410.8 1406.5,413.5 1400,416.7 1393.9,420.4 1388.1,424.6 1382.6,429.3 1377.4,434.5 1372.6,439.7 1368.1,444.8 1363.9,450 1360,455.2 1356.4,459.9 1353.2,464.1 1350.3,467.8 1347.7,471 1346.2,474.2 1345.9,477.5 1346.7,480.7 1348.7,483.9 1351.6,486.8 1355.4,489.4 1360.3,491.7 1366.1,493.6 1373.1,495.4 1381.1,497.1 1390.4,498.7 1400.7,500.1 1409.4,501.2 1416.5,502.1 1422,502.6 1425.9,502.9 1430.4,503.1 1435.6,503.4 1441.4,503.7 1447.9,503.9 1452.7,497.6 1456,484.8 1457.6,465.5 1457.6,439.7 1456,420.5 1452.7,408.1Z"/>
<use href="#coast"/>
</g>
<rect x="78.4" y="132.5" width="1331.2" height="656" fill="none" stroke="#000" stroke-width="3.3"/>
<rect x="78.4" y="831.5" width="167" height="65.9" fill="#0000c8"/>
<rect x="244.8" y="831.5" width="167" height="65.9" fill="#0040ff"/>
<rect x="411.2" y="831.5" width="167" height="65.9" fill="#00c0ff"/>
<rect x="577.6" y="831.5" width="167" height="65.9" fill="#49ffad"/>
<rect x="744" y="831.5" width="167" height="65.9" fill="#b1ff46"/>
<rect x="910.4" y="831.5" width="167" height="65.9" fill="#ffd000"/>
<rect x="1076.8" y="831.5" width="167" height="65.9" fill="#ff5900"/>
<rect x="1243.2" y="831.5" width="166.4" height="65.9" fill="#c40000"/>
<rect x="78.4" y="831.5" width="1331.2" height="65.9" fill="none" stroke="#000" stroke-width="3.3"/>
<text x="0" y="0" font-size="44.9" text-anchor="middle" transform="translate(77.6,959.3) scale(1.065,1)">0.0</text>
<text x="0" y="0" font-size="44.9" text-anchor="middle" transform="translate(244,959.3) scale(1.065,1)">2.5</text>
<text x="0" y="0" font-size="44.9" text-anchor="middle" transform="translate(410.4,959.3) scale(1.065,1)">5.0</text>
<text x="0" y="0" font-size="44.9" text-anchor="middle" transform="translate(576.8,959.3) scale(1.065,1)">7.5</text>
<text x="0" y="0" font-size="44.9" text-anchor="middle" transform="translate(743.2,959.3) scale(1.065,1)">10.0</text>
<text x="0" y="0" font-size="44.9" text-anchor="middle" transform="translate(909.6,959.3) scale(1.065,1)">12.5</text>
<text x="0" y="0" font-size="44.9" text-anchor="middle" transform="translate(1076,959.3) scale(1.065,1)">15.0</text>
<text x="0" y="0" font-size="44.9" text-anchor="middle" transform="translate(1242.4,959.3) scale(1.065,1)">17.5</text>
<text x="0" y="0" font-size="44.9" text-anchor="middle" transform="translate(1408.8,959.3) scale(1.065,1)">20.0</text>
<path d="M78.4,897.4V912M244.8,897.4V912M411.2,897.4V912M577.6,897.4V912M744,897.4V912M910.4,897.4V912M1076.8,897.4V912M1243.2,897.4V912M1409.6,897.4V912" stroke="#000" stroke-width="3.3" fill="none"/>
</g>
<text x="257.5" y="108" font-size="51" textLength="972.5" lengthAdjust="spacingAndGlyphs" xml:space="preserve">Combined (GIM), 2012-09-16 07:00 UT</text>
<text x="130" y="1093" font-size="51" textLength="1221" lengthAdjust="spacingAndGlyphs" xml:space="preserve">Ionosphere  (h=450.0 km), 2012-09-16 07:00 UT</text>
<text x="85" y="2078" font-size="51" textLength="1310.5" lengthAdjust="spacingAndGlyphs" xml:space="preserve">Plasmasphere (h=1500.0 km), 2012-09-16 07:00 UT</text>
</svg></body></html>
